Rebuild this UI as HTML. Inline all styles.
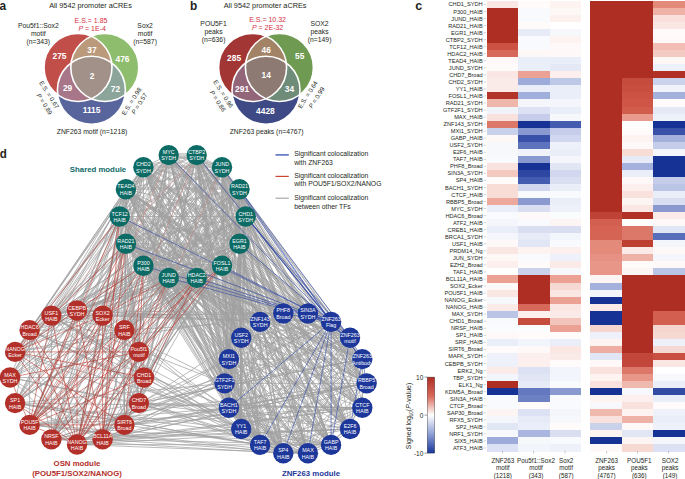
<!DOCTYPE html>
<html><head><meta charset="utf-8"><style>
html,body{margin:0;padding:0;background:#fff;}
body{width:685px;height:479px;overflow:hidden;}
svg{display:block;font-family:"Liberation Sans", sans-serif;}
</style></head><body>
<svg width="685" height="479" viewBox="0 0 685 479">
<g font-weight="bold" font-size="13.2" fill="#231f20"><text transform="translate(-0.5,9.5) scale(0.9,1)">a</text><text transform="translate(190.1,9.7) scale(0.9,1)">b</text><text transform="translate(415.3,9.7) scale(0.95,1)">c</text><text transform="translate(-0.3,157.9) scale(0.88,1)">d</text></g>
<defs><clipPath id="v0r"><circle cx="78" cy="67.5" r="34"/></clipPath><clipPath id="v0g"><circle cx="104.8" cy="67.5" r="34"/></clipPath><clipPath id="v0b"><circle cx="91.4" cy="90.2" r="34"/></clipPath></defs>
<circle cx="78" cy="67.5" r="34" fill="#c24e4a"/>
<circle cx="104.8" cy="67.5" r="34" fill="#8dbd6d"/>
<circle cx="91.4" cy="90.2" r="34" fill="#58649c"/>
<g clip-path="url(#v0r)"><circle cx="104.8" cy="67.5" r="34" fill="#bb9a7c"/><circle cx="91.4" cy="90.2" r="34" fill="#a87689"/></g>
<g clip-path="url(#v0g)"><circle cx="91.4" cy="90.2" r="34" fill="#8ba59a"/></g>
<g clip-path="url(#v0r)"><g clip-path="url(#v0g)"><circle cx="91.4" cy="90.2" r="34" fill="#a29189"/></g></g>
<g fill="none" stroke="#fff" stroke-width="1.6"><circle cx="78" cy="67.5" r="34"/><circle cx="104.8" cy="67.5" r="34"/><circle cx="91.4" cy="90.2" r="34"/></g>
<g fill="#fff" font-weight="bold" font-size="8.4" text-anchor="middle"><text x="59.5" y="59.3">275</text><text x="92.0" y="53.0">37</text><text x="122.5" y="62.0">476</text><text x="92.0" y="79.2">2</text><text x="67.6" y="90.6">29</text><text x="115.4" y="91.7">72</text><text x="91.6" y="113.1">1115</text></g>
<g fill="#231f20" font-size="6.8" text-anchor="middle"><text x="90.5" y="8.2" font-size="7.3">All 9542 promoter aCREs</text><text x="38.3" y="27.5">Pou5f1::Sox2</text><text x="38.3" y="35.5">motif</text><text x="38.3" y="43.5">(n=343)</text><text x="145.1" y="27.5">Sox2</text><text x="145.1" y="35.5">motif</text><text x="145.1" y="43.5">(n=587)</text><text x="92" y="134.0">ZNF263 motif (n=1218)</text></g>
<g fill="#d42f42" font-size="7" text-anchor="middle"><text x="91" y="23.2">E.S.= 1.85</text><text x="92.2" y="31.3"><tspan font-style="italic">P</tspan> = 1E-4</text></g>
<g fill="#231f20" text-anchor="middle"><text transform="translate(47.34,95.88) rotate(57.5)" x="0" y="0" font-size="6.3">E.S. = 0.67</text><text transform="translate(42.64,105.18) rotate(57.5)" x="0" y="0" font-size="6.3"><tspan font-style="italic">P</tspan> = 0.89</text><text transform="translate(133.46,102.48) rotate(-57.5)" x="0" y="0" font-size="6.3">E.S. = 0.98</text><text transform="translate(141.16,104.78) rotate(-57.5)" x="0" y="0" font-size="6.3"><tspan font-style="italic">P</tspan> = 0.57</text></g>
<defs><clipPath id="v174r"><circle cx="252.6" cy="67.5" r="34"/></clipPath><clipPath id="v174g"><circle cx="279.4" cy="67.5" r="34"/></clipPath><clipPath id="v174b"><circle cx="266.0" cy="90.2" r="34"/></clipPath></defs>
<circle cx="252.6" cy="67.5" r="34" fill="#a23634"/>
<circle cx="279.4" cy="67.5" r="34" fill="#6e9a51"/>
<circle cx="266.0" cy="90.2" r="34" fill="#3e4a85"/>
<g clip-path="url(#v174r)"><circle cx="279.4" cy="67.5" r="34" fill="#a38366"/><circle cx="266.0" cy="90.2" r="34" fill="#926579"/></g>
<g clip-path="url(#v174g)"><circle cx="266.0" cy="90.2" r="34" fill="#6f8c79"/></g>
<g clip-path="url(#v174r)"><g clip-path="url(#v174g)"><circle cx="266.0" cy="90.2" r="34" fill="#8d7a72"/></g></g>
<g fill="none" stroke="#fff" stroke-width="1.6"><circle cx="252.6" cy="67.5" r="34"/><circle cx="279.4" cy="67.5" r="34"/><circle cx="266.0" cy="90.2" r="34"/></g>
<g fill="#fff" font-weight="bold" font-size="8.4" text-anchor="middle"><text x="234.1" y="60.5">285</text><text x="266.2" y="52.6">46</text><text x="299.7" y="59.0">55</text><text x="266.2" y="78.0">14</text><text x="242.1" y="92.4">291</text><text x="289.4" y="91.5">34</text><text x="265.4" y="114.0">4428</text></g>
<g fill="#231f20" font-size="6.8" text-anchor="middle"><text x="265.1" y="8.2" font-size="7.3">All 9542 promoter aCREs</text><text x="213.6" y="26.0">POU5F1</text><text x="213.6" y="34.1">peaks</text><text x="213.6" y="42.0">(n=636)</text><text x="319.6" y="26.0">SOX2</text><text x="319.6" y="34.1">peaks</text><text x="319.6" y="42.0">(n=149)</text><text x="266.6" y="134.0">ZNF263 peaks (n=4767)</text></g>
<g fill="#d42f42" font-size="7" text-anchor="middle"><text x="267.6" y="21.6">E.S.= 10.32</text><text x="267.6" y="29.5"><tspan font-style="italic">P</tspan> = 2E-32</text></g>
<g fill="#231f20" text-anchor="middle"><text transform="translate(221.44,95.08) rotate(57.5)" x="0" y="0" font-size="6.3">E.S. = 0.96</text><text transform="translate(215.94,102.28) rotate(57.5)" x="0" y="0" font-size="6.3"><tspan font-style="italic">P</tspan> = 0.86</text><text transform="translate(309.56,95.88) rotate(-57.5)" x="0" y="0" font-size="6.3">E.S. = 0.64</text><text transform="translate(318.46,98.78) rotate(-57.5)" x="0" y="0" font-size="6.3"><tspan font-style="italic">P</tspan> = 0.99</text></g>
<g stroke="#a0a0a0" stroke-width="0.8" stroke-opacity="0.9" fill="none">
<line x1="196.7" y1="155.1" x2="222.0" y2="167.2"/>
<line x1="196.2" y1="156.3" x2="221.4" y2="168.4"/>
<line x1="196.7" y1="155.1" x2="239.5" y2="189.2"/>
<line x1="195.9" y1="156.1" x2="238.7" y2="190.2"/>
<line x1="196.7" y1="155.1" x2="245.7" y2="216.5"/>
<line x1="195.7" y1="155.9" x2="244.7" y2="217.3"/>
<line x1="196.7" y1="155.1" x2="239.5" y2="243.8"/>
<line x1="195.5" y1="155.6" x2="238.3" y2="244.4"/>
<line x1="196.7" y1="155.1" x2="222.0" y2="265.8"/>
<line x1="196.7" y1="155.1" x2="196.7" y2="277.9"/>
<line x1="195.4" y1="155.1" x2="195.4" y2="277.9"/>
<line x1="196.7" y1="155.1" x2="168.7" y2="277.9"/>
<line x1="196.7" y1="155.1" x2="143.4" y2="265.8"/>
<line x1="195.5" y1="154.5" x2="142.2" y2="265.2"/>
<line x1="196.7" y1="155.1" x2="125.9" y2="243.8"/>
<line x1="196.7" y1="155.1" x2="119.7" y2="216.5"/>
<line x1="196.7" y1="155.1" x2="125.9" y2="189.2"/>
<line x1="196.2" y1="153.9" x2="125.4" y2="188.0"/>
<line x1="196.7" y1="155.1" x2="143.4" y2="167.2"/>
<line x1="196.4" y1="153.8" x2="143.1" y2="166.0"/>
<line x1="196.7" y1="155.1" x2="168.7" y2="155.1"/>
<line x1="196.7" y1="153.8" x2="168.7" y2="153.8"/>
<line x1="196.7" y1="155.1" x2="77.0" y2="310.5"/>
<line x1="196.7" y1="155.1" x2="102.6" y2="315.6"/>
<line x1="196.7" y1="155.1" x2="124.4" y2="330.1"/>
<line x1="196.7" y1="155.1" x2="144.0" y2="377.5"/>
<line x1="196.7" y1="155.1" x2="138.9" y2="403.1"/>
<line x1="196.7" y1="155.1" x2="124.4" y2="424.9"/>
<line x1="196.7" y1="155.1" x2="102.6" y2="439.4"/>
<line x1="196.7" y1="155.1" x2="51.4" y2="439.4"/>
<line x1="196.7" y1="155.1" x2="29.6" y2="424.9"/>
<line x1="196.7" y1="155.1" x2="51.4" y2="315.6"/>
<line x1="196.7" y1="155.1" x2="307.9" y2="313.5"/>
<line x1="196.7" y1="155.1" x2="350.0" y2="337.8"/>
<line x1="195.7" y1="155.9" x2="349.0" y2="338.6"/>
<line x1="196.7" y1="155.1" x2="362.3" y2="359.1"/>
<line x1="196.7" y1="155.1" x2="366.6" y2="383.4"/>
<line x1="196.7" y1="155.1" x2="350.0" y2="429.0"/>
<line x1="195.6" y1="155.7" x2="348.9" y2="429.7"/>
<line x1="196.7" y1="155.1" x2="331.1" y2="444.9"/>
<line x1="196.7" y1="155.1" x2="307.9" y2="453.3"/>
<line x1="196.7" y1="155.1" x2="283.3" y2="453.3"/>
<line x1="195.5" y1="155.4" x2="282.0" y2="453.7"/>
<line x1="196.7" y1="155.1" x2="260.1" y2="444.9"/>
<line x1="196.7" y1="155.1" x2="241.2" y2="429.0"/>
<line x1="195.4" y1="155.3" x2="239.9" y2="429.2"/>
<line x1="196.7" y1="155.1" x2="228.9" y2="407.7"/>
<line x1="196.7" y1="155.1" x2="224.6" y2="383.4"/>
<line x1="195.4" y1="155.2" x2="223.3" y2="383.6"/>
<line x1="196.7" y1="155.1" x2="228.9" y2="359.1"/>
<line x1="195.4" y1="155.3" x2="227.6" y2="359.3"/>
<line x1="196.7" y1="155.1" x2="241.2" y2="337.8"/>
<line x1="196.7" y1="155.1" x2="260.1" y2="321.9"/>
<line x1="196.7" y1="155.1" x2="283.3" y2="313.5"/>
<line x1="195.6" y1="155.7" x2="282.1" y2="314.1"/>
<line x1="222.0" y1="167.2" x2="239.5" y2="189.2"/>
<line x1="221.0" y1="168.1" x2="238.4" y2="190.0"/>
<line x1="222.0" y1="167.2" x2="245.7" y2="216.5"/>
<line x1="220.8" y1="167.8" x2="244.5" y2="217.1"/>
<line x1="222.0" y1="167.2" x2="239.5" y2="243.8"/>
<line x1="220.7" y1="167.5" x2="238.2" y2="244.1"/>
<line x1="222.0" y1="167.2" x2="222.0" y2="265.8"/>
<line x1="222.0" y1="167.2" x2="196.7" y2="277.9"/>
<line x1="220.7" y1="167.0" x2="195.5" y2="277.6"/>
<line x1="222.0" y1="167.2" x2="168.7" y2="277.9"/>
<line x1="220.8" y1="166.7" x2="167.5" y2="277.4"/>
<line x1="222.0" y1="167.2" x2="143.4" y2="265.8"/>
<line x1="222.0" y1="167.2" x2="125.9" y2="243.8"/>
<line x1="221.2" y1="166.2" x2="125.1" y2="242.8"/>
<line x1="222.0" y1="167.2" x2="119.7" y2="216.5"/>
<line x1="221.4" y1="166.1" x2="119.1" y2="215.3"/>
<line x1="222.0" y1="167.2" x2="125.9" y2="189.2"/>
<line x1="222.0" y1="167.2" x2="143.4" y2="167.2"/>
<line x1="222.0" y1="165.9" x2="143.4" y2="165.9"/>
<line x1="222.0" y1="167.2" x2="168.7" y2="155.1"/>
<line x1="222.3" y1="166.0" x2="169.0" y2="153.8"/>
<line x1="222.0" y1="167.2" x2="77.0" y2="310.5"/>
<line x1="222.0" y1="167.2" x2="102.6" y2="315.6"/>
<line x1="222.0" y1="167.2" x2="124.4" y2="330.1"/>
<line x1="222.0" y1="167.2" x2="144.0" y2="377.5"/>
<line x1="222.0" y1="167.2" x2="138.9" y2="403.1"/>
<line x1="222.0" y1="167.2" x2="102.6" y2="439.4"/>
<line x1="222.0" y1="167.2" x2="77.0" y2="444.5"/>
<line x1="222.0" y1="167.2" x2="29.6" y2="424.9"/>
<line x1="222.0" y1="167.2" x2="15.1" y2="403.1"/>
<line x1="222.0" y1="167.2" x2="29.6" y2="330.1"/>
<line x1="222.0" y1="167.2" x2="51.4" y2="315.6"/>
<line x1="222.0" y1="167.2" x2="307.9" y2="313.5"/>
<line x1="222.0" y1="167.2" x2="350.0" y2="337.8"/>
<line x1="222.0" y1="167.2" x2="362.3" y2="359.1"/>
<line x1="222.0" y1="167.2" x2="366.6" y2="383.4"/>
<line x1="220.9" y1="168.0" x2="365.5" y2="384.1"/>
<line x1="222.0" y1="167.2" x2="362.3" y2="407.7"/>
<line x1="222.0" y1="167.2" x2="350.0" y2="429.0"/>
<line x1="222.0" y1="167.2" x2="331.1" y2="444.9"/>
<line x1="222.0" y1="167.2" x2="307.9" y2="453.3"/>
<line x1="222.0" y1="167.2" x2="283.3" y2="453.3"/>
<line x1="222.0" y1="167.2" x2="260.1" y2="444.9"/>
<line x1="222.0" y1="167.2" x2="241.2" y2="429.0"/>
<line x1="222.0" y1="167.2" x2="228.9" y2="407.7"/>
<line x1="222.0" y1="167.2" x2="228.9" y2="359.1"/>
<line x1="220.7" y1="167.3" x2="227.6" y2="359.2"/>
<line x1="222.0" y1="167.2" x2="241.2" y2="337.8"/>
<line x1="222.0" y1="167.2" x2="260.1" y2="321.9"/>
<line x1="220.7" y1="167.6" x2="258.8" y2="322.2"/>
<line x1="222.0" y1="167.2" x2="283.3" y2="313.5"/>
<line x1="239.5" y1="189.2" x2="245.7" y2="216.5"/>
<line x1="238.2" y1="189.5" x2="244.4" y2="216.8"/>
<line x1="239.5" y1="189.2" x2="239.5" y2="243.8"/>
<line x1="239.5" y1="189.2" x2="222.0" y2="265.8"/>
<line x1="239.5" y1="189.2" x2="196.7" y2="277.9"/>
<line x1="238.3" y1="188.6" x2="195.5" y2="277.4"/>
<line x1="239.5" y1="189.2" x2="168.7" y2="277.9"/>
<line x1="238.4" y1="188.4" x2="167.7" y2="277.1"/>
<line x1="239.5" y1="189.2" x2="143.4" y2="265.8"/>
<line x1="239.5" y1="189.2" x2="125.9" y2="243.8"/>
<line x1="238.9" y1="188.0" x2="125.4" y2="242.7"/>
<line x1="239.5" y1="189.2" x2="119.7" y2="216.5"/>
<line x1="239.2" y1="187.9" x2="119.4" y2="215.2"/>
<line x1="239.5" y1="189.2" x2="125.9" y2="189.2"/>
<line x1="239.5" y1="187.9" x2="125.9" y2="187.9"/>
<line x1="239.5" y1="189.2" x2="143.4" y2="167.2"/>
<line x1="239.8" y1="187.9" x2="143.7" y2="166.0"/>
<line x1="239.5" y1="189.2" x2="168.7" y2="155.1"/>
<line x1="239.5" y1="189.2" x2="102.6" y2="315.6"/>
<line x1="239.5" y1="189.2" x2="124.4" y2="330.1"/>
<line x1="239.5" y1="189.2" x2="138.9" y2="351.9"/>
<line x1="239.5" y1="189.2" x2="138.9" y2="403.1"/>
<line x1="239.5" y1="189.2" x2="124.4" y2="424.9"/>
<line x1="239.5" y1="189.2" x2="51.4" y2="439.4"/>
<line x1="239.5" y1="189.2" x2="29.6" y2="424.9"/>
<line x1="239.5" y1="189.2" x2="10.0" y2="377.5"/>
<line x1="239.5" y1="189.2" x2="15.1" y2="351.9"/>
<line x1="239.5" y1="189.2" x2="29.6" y2="330.1"/>
<line x1="239.5" y1="189.2" x2="51.4" y2="315.6"/>
<line x1="239.5" y1="189.2" x2="307.9" y2="313.5"/>
<line x1="238.3" y1="189.8" x2="306.8" y2="314.1"/>
<line x1="239.5" y1="189.2" x2="362.3" y2="359.1"/>
<line x1="239.5" y1="189.2" x2="366.6" y2="383.4"/>
<line x1="239.5" y1="189.2" x2="362.3" y2="407.7"/>
<line x1="239.5" y1="189.2" x2="350.0" y2="429.0"/>
<line x1="239.5" y1="189.2" x2="331.1" y2="444.9"/>
<line x1="238.2" y1="189.6" x2="329.9" y2="445.3"/>
<line x1="239.5" y1="189.2" x2="307.9" y2="453.3"/>
<line x1="238.2" y1="189.5" x2="306.7" y2="453.6"/>
<line x1="239.5" y1="189.2" x2="283.3" y2="453.3"/>
<line x1="239.5" y1="189.2" x2="260.1" y2="444.9"/>
<line x1="239.5" y1="189.2" x2="241.2" y2="429.0"/>
<line x1="239.5" y1="189.2" x2="224.6" y2="383.4"/>
<line x1="238.2" y1="189.1" x2="223.3" y2="383.3"/>
<line x1="239.5" y1="189.2" x2="228.9" y2="359.1"/>
<line x1="239.5" y1="189.2" x2="241.2" y2="337.8"/>
<line x1="238.2" y1="189.2" x2="239.9" y2="337.8"/>
<line x1="239.5" y1="189.2" x2="283.3" y2="313.5"/>
<line x1="245.7" y1="216.5" x2="239.5" y2="243.8"/>
<line x1="244.4" y1="216.2" x2="238.2" y2="243.5"/>
<line x1="245.7" y1="216.5" x2="222.0" y2="265.8"/>
<line x1="244.5" y1="215.9" x2="220.8" y2="265.2"/>
<line x1="245.7" y1="216.5" x2="196.7" y2="277.9"/>
<line x1="245.7" y1="216.5" x2="168.7" y2="277.9"/>
<line x1="245.7" y1="216.5" x2="143.4" y2="265.8"/>
<line x1="245.1" y1="215.3" x2="142.9" y2="264.6"/>
<line x1="245.7" y1="216.5" x2="125.9" y2="243.8"/>
<line x1="245.4" y1="215.2" x2="125.6" y2="242.6"/>
<line x1="245.7" y1="216.5" x2="119.7" y2="216.5"/>
<line x1="245.7" y1="216.5" x2="125.9" y2="189.2"/>
<line x1="245.7" y1="216.5" x2="143.4" y2="167.2"/>
<line x1="246.3" y1="215.3" x2="144.0" y2="166.1"/>
<line x1="245.7" y1="216.5" x2="168.7" y2="155.1"/>
<line x1="246.5" y1="215.5" x2="169.5" y2="154.1"/>
<line x1="245.7" y1="216.5" x2="77.0" y2="310.5"/>
<line x1="245.7" y1="216.5" x2="102.6" y2="315.6"/>
<line x1="245.7" y1="216.5" x2="124.4" y2="330.1"/>
<line x1="245.7" y1="216.5" x2="138.9" y2="351.9"/>
<line x1="245.7" y1="216.5" x2="144.0" y2="377.5"/>
<line x1="245.7" y1="216.5" x2="138.9" y2="403.1"/>
<line x1="245.7" y1="216.5" x2="77.0" y2="444.5"/>
<line x1="245.7" y1="216.5" x2="51.4" y2="439.4"/>
<line x1="245.7" y1="216.5" x2="29.6" y2="424.9"/>
<line x1="245.7" y1="216.5" x2="10.0" y2="377.5"/>
<line x1="245.7" y1="216.5" x2="15.1" y2="351.9"/>
<line x1="245.7" y1="216.5" x2="29.6" y2="330.1"/>
<line x1="245.7" y1="216.5" x2="51.4" y2="315.6"/>
<line x1="245.7" y1="216.5" x2="307.9" y2="313.5"/>
<line x1="244.6" y1="217.2" x2="306.8" y2="314.2"/>
<line x1="245.7" y1="216.5" x2="366.6" y2="383.4"/>
<line x1="245.7" y1="216.5" x2="362.3" y2="407.7"/>
<line x1="245.7" y1="216.5" x2="350.0" y2="429.0"/>
<line x1="244.5" y1="217.1" x2="348.8" y2="429.6"/>
<line x1="245.7" y1="216.5" x2="331.1" y2="444.9"/>
<line x1="245.7" y1="216.5" x2="307.9" y2="453.3"/>
<line x1="245.7" y1="216.5" x2="283.3" y2="453.3"/>
<line x1="245.7" y1="216.5" x2="241.2" y2="429.0"/>
<line x1="244.4" y1="216.5" x2="239.9" y2="429.0"/>
<line x1="245.7" y1="216.5" x2="228.9" y2="407.7"/>
<line x1="244.4" y1="216.4" x2="227.6" y2="407.6"/>
<line x1="245.7" y1="216.5" x2="224.6" y2="383.4"/>
<line x1="245.7" y1="216.5" x2="228.9" y2="359.1"/>
<line x1="244.4" y1="216.3" x2="227.6" y2="359.0"/>
<line x1="245.7" y1="216.5" x2="241.2" y2="337.8"/>
<line x1="245.7" y1="216.5" x2="260.1" y2="321.9"/>
<line x1="245.7" y1="216.5" x2="283.3" y2="313.5"/>
<line x1="239.5" y1="243.8" x2="222.0" y2="265.8"/>
<line x1="239.5" y1="243.8" x2="196.7" y2="277.9"/>
<line x1="238.7" y1="242.8" x2="195.9" y2="276.9"/>
<line x1="239.5" y1="243.8" x2="168.7" y2="277.9"/>
<line x1="239.5" y1="243.8" x2="143.4" y2="265.8"/>
<line x1="239.2" y1="242.6" x2="143.1" y2="264.5"/>
<line x1="239.5" y1="243.8" x2="125.9" y2="243.8"/>
<line x1="239.5" y1="243.8" x2="119.7" y2="216.5"/>
<line x1="239.8" y1="242.6" x2="120.0" y2="215.2"/>
<line x1="239.5" y1="243.8" x2="125.9" y2="189.2"/>
<line x1="239.5" y1="243.8" x2="143.4" y2="167.2"/>
<line x1="240.3" y1="242.8" x2="144.2" y2="166.2"/>
<line x1="239.5" y1="243.8" x2="168.7" y2="155.1"/>
<line x1="240.5" y1="243.0" x2="169.7" y2="154.3"/>
<line x1="239.5" y1="243.8" x2="77.0" y2="310.5"/>
<line x1="239.5" y1="243.8" x2="124.4" y2="330.1"/>
<line x1="239.5" y1="243.8" x2="138.9" y2="351.9"/>
<line x1="239.5" y1="243.8" x2="144.0" y2="377.5"/>
<line x1="239.5" y1="243.8" x2="51.4" y2="439.4"/>
<line x1="239.5" y1="243.8" x2="29.6" y2="424.9"/>
<line x1="239.5" y1="243.8" x2="15.1" y2="403.1"/>
<line x1="239.5" y1="243.8" x2="29.6" y2="330.1"/>
<line x1="239.5" y1="243.8" x2="51.4" y2="315.6"/>
<line x1="239.5" y1="243.8" x2="307.9" y2="313.5"/>
<line x1="239.5" y1="243.8" x2="350.0" y2="337.8"/>
<line x1="239.5" y1="243.8" x2="362.3" y2="359.1"/>
<line x1="239.5" y1="243.8" x2="366.6" y2="383.4"/>
<line x1="239.5" y1="243.8" x2="362.3" y2="407.7"/>
<line x1="239.5" y1="243.8" x2="350.0" y2="429.0"/>
<line x1="238.3" y1="244.5" x2="348.9" y2="429.7"/>
<line x1="239.5" y1="243.8" x2="331.1" y2="444.9"/>
<line x1="239.5" y1="243.8" x2="307.9" y2="453.3"/>
<line x1="239.5" y1="243.8" x2="283.3" y2="453.3"/>
<line x1="239.5" y1="243.8" x2="260.1" y2="444.9"/>
<line x1="239.5" y1="243.8" x2="241.2" y2="429.0"/>
<line x1="239.5" y1="243.8" x2="228.9" y2="407.7"/>
<line x1="239.5" y1="243.8" x2="224.6" y2="383.4"/>
<line x1="239.5" y1="243.8" x2="228.9" y2="359.1"/>
<line x1="239.5" y1="243.8" x2="241.2" y2="337.8"/>
<line x1="239.5" y1="243.8" x2="260.1" y2="321.9"/>
<line x1="222.0" y1="265.8" x2="196.7" y2="277.9"/>
<line x1="222.0" y1="265.8" x2="168.7" y2="277.9"/>
<line x1="221.7" y1="264.5" x2="168.4" y2="276.7"/>
<line x1="222.0" y1="265.8" x2="143.4" y2="265.8"/>
<line x1="222.0" y1="264.5" x2="143.4" y2="264.5"/>
<line x1="222.0" y1="265.8" x2="125.9" y2="243.8"/>
<line x1="222.3" y1="264.5" x2="126.2" y2="242.6"/>
<line x1="222.0" y1="265.8" x2="119.7" y2="216.5"/>
<line x1="222.5" y1="264.6" x2="120.3" y2="215.3"/>
<line x1="222.0" y1="265.8" x2="125.9" y2="189.2"/>
<line x1="222.8" y1="264.7" x2="126.7" y2="188.1"/>
<line x1="222.0" y1="265.8" x2="143.4" y2="167.2"/>
<line x1="222.0" y1="265.8" x2="168.7" y2="155.1"/>
<line x1="223.2" y1="265.2" x2="169.9" y2="154.5"/>
<line x1="222.0" y1="265.8" x2="77.0" y2="310.5"/>
<line x1="222.0" y1="265.8" x2="102.6" y2="315.6"/>
<line x1="222.0" y1="265.8" x2="124.4" y2="330.1"/>
<line x1="222.0" y1="265.8" x2="144.0" y2="377.5"/>
<line x1="222.0" y1="265.8" x2="102.6" y2="439.4"/>
<line x1="222.0" y1="265.8" x2="51.4" y2="439.4"/>
<line x1="222.0" y1="265.8" x2="15.1" y2="403.1"/>
<line x1="222.0" y1="265.8" x2="10.0" y2="377.5"/>
<line x1="222.0" y1="265.8" x2="51.4" y2="315.6"/>
<line x1="222.0" y1="265.8" x2="307.9" y2="313.5"/>
<line x1="221.3" y1="266.9" x2="307.3" y2="314.6"/>
<line x1="222.0" y1="265.8" x2="350.0" y2="337.8"/>
<line x1="222.0" y1="265.8" x2="362.3" y2="359.1"/>
<line x1="222.0" y1="265.8" x2="366.6" y2="383.4"/>
<line x1="221.2" y1="266.8" x2="365.8" y2="384.4"/>
<line x1="222.0" y1="265.8" x2="362.3" y2="407.7"/>
<line x1="222.0" y1="265.8" x2="350.0" y2="429.0"/>
<line x1="222.0" y1="265.8" x2="331.1" y2="444.9"/>
<line x1="220.9" y1="266.4" x2="330.0" y2="445.6"/>
<line x1="222.0" y1="265.8" x2="307.9" y2="453.3"/>
<line x1="220.8" y1="266.3" x2="306.7" y2="453.9"/>
<line x1="222.0" y1="265.8" x2="283.3" y2="453.3"/>
<line x1="222.0" y1="265.8" x2="260.1" y2="444.9"/>
<line x1="222.0" y1="265.8" x2="241.2" y2="429.0"/>
<line x1="222.0" y1="265.8" x2="228.9" y2="407.7"/>
<line x1="222.0" y1="265.8" x2="224.6" y2="383.4"/>
<line x1="222.0" y1="265.8" x2="228.9" y2="359.1"/>
<line x1="222.0" y1="265.8" x2="241.2" y2="337.8"/>
<line x1="222.0" y1="265.8" x2="260.1" y2="321.9"/>
<line x1="222.0" y1="265.8" x2="283.3" y2="313.5"/>
<line x1="196.7" y1="277.9" x2="168.7" y2="277.9"/>
<line x1="196.7" y1="277.9" x2="143.4" y2="265.8"/>
<line x1="197.0" y1="276.7" x2="143.7" y2="264.5"/>
<line x1="196.7" y1="277.9" x2="125.9" y2="243.8"/>
<line x1="197.3" y1="276.7" x2="126.5" y2="242.7"/>
<line x1="196.7" y1="277.9" x2="119.7" y2="216.5"/>
<line x1="196.7" y1="277.9" x2="125.9" y2="189.2"/>
<line x1="197.7" y1="277.1" x2="127.0" y2="188.4"/>
<line x1="196.7" y1="277.9" x2="143.4" y2="167.2"/>
<line x1="197.9" y1="277.4" x2="144.6" y2="166.7"/>
<line x1="196.7" y1="277.9" x2="168.7" y2="155.1"/>
<line x1="196.7" y1="277.9" x2="77.0" y2="310.5"/>
<line x1="196.7" y1="277.9" x2="102.6" y2="315.6"/>
<line x1="196.7" y1="277.9" x2="124.4" y2="330.1"/>
<line x1="196.7" y1="277.9" x2="144.0" y2="377.5"/>
<line x1="196.7" y1="277.9" x2="138.9" y2="403.1"/>
<line x1="196.7" y1="277.9" x2="102.6" y2="439.4"/>
<line x1="196.7" y1="277.9" x2="51.4" y2="439.4"/>
<line x1="196.7" y1="277.9" x2="15.1" y2="403.1"/>
<line x1="196.7" y1="277.9" x2="29.6" y2="330.1"/>
<line x1="196.7" y1="277.9" x2="51.4" y2="315.6"/>
<line x1="196.7" y1="277.9" x2="307.9" y2="313.5"/>
<line x1="196.7" y1="277.9" x2="350.0" y2="337.8"/>
<line x1="196.2" y1="279.1" x2="349.5" y2="339.0"/>
<line x1="196.7" y1="277.9" x2="362.3" y2="359.1"/>
<line x1="196.1" y1="279.1" x2="361.7" y2="360.3"/>
<line x1="196.7" y1="277.9" x2="366.6" y2="383.4"/>
<line x1="196.7" y1="277.9" x2="362.3" y2="407.7"/>
<line x1="196.7" y1="277.9" x2="350.0" y2="429.0"/>
<line x1="195.8" y1="278.8" x2="349.1" y2="430.0"/>
<line x1="196.7" y1="277.9" x2="331.1" y2="444.9"/>
<line x1="196.7" y1="277.9" x2="260.1" y2="444.9"/>
<line x1="195.5" y1="278.4" x2="258.9" y2="445.3"/>
<line x1="196.7" y1="277.9" x2="228.9" y2="407.7"/>
<line x1="196.7" y1="277.9" x2="224.6" y2="383.4"/>
<line x1="196.7" y1="277.9" x2="228.9" y2="359.1"/>
<line x1="196.7" y1="277.9" x2="241.2" y2="337.8"/>
<line x1="195.7" y1="278.7" x2="240.2" y2="338.5"/>
<line x1="196.7" y1="277.9" x2="260.1" y2="321.9"/>
<line x1="196.7" y1="277.9" x2="283.3" y2="313.5"/>
<line x1="168.7" y1="277.9" x2="143.4" y2="265.8"/>
<line x1="169.2" y1="276.7" x2="144.0" y2="264.6"/>
<line x1="168.7" y1="277.9" x2="125.9" y2="243.8"/>
<line x1="169.5" y1="276.9" x2="126.7" y2="242.8"/>
<line x1="168.7" y1="277.9" x2="119.7" y2="216.5"/>
<line x1="169.7" y1="277.1" x2="120.7" y2="215.7"/>
<line x1="168.7" y1="277.9" x2="125.9" y2="189.2"/>
<line x1="168.7" y1="277.9" x2="143.4" y2="167.2"/>
<line x1="168.7" y1="277.9" x2="168.7" y2="155.1"/>
<line x1="170.0" y1="277.9" x2="170.0" y2="155.1"/>
<line x1="168.7" y1="277.9" x2="77.0" y2="310.5"/>
<line x1="168.7" y1="277.9" x2="124.4" y2="330.1"/>
<line x1="168.7" y1="277.9" x2="138.9" y2="403.1"/>
<line x1="168.7" y1="277.9" x2="51.4" y2="439.4"/>
<line x1="168.7" y1="277.9" x2="15.1" y2="403.1"/>
<line x1="168.7" y1="277.9" x2="15.1" y2="351.9"/>
<line x1="168.7" y1="277.9" x2="307.9" y2="313.5"/>
<line x1="168.7" y1="277.9" x2="350.0" y2="337.8"/>
<line x1="168.7" y1="277.9" x2="362.3" y2="359.1"/>
<line x1="168.2" y1="279.1" x2="361.8" y2="360.3"/>
<line x1="168.7" y1="277.9" x2="366.6" y2="383.4"/>
<line x1="168.7" y1="277.9" x2="362.3" y2="407.7"/>
<line x1="168.7" y1="277.9" x2="350.0" y2="429.0"/>
<line x1="168.7" y1="277.9" x2="331.1" y2="444.9"/>
<line x1="168.7" y1="277.9" x2="307.9" y2="453.3"/>
<line x1="168.7" y1="277.9" x2="283.3" y2="453.3"/>
<line x1="168.7" y1="277.9" x2="260.1" y2="444.9"/>
<line x1="168.7" y1="277.9" x2="228.9" y2="407.7"/>
<line x1="168.7" y1="277.9" x2="224.6" y2="383.4"/>
<line x1="168.7" y1="277.9" x2="228.9" y2="359.1"/>
<line x1="168.7" y1="277.9" x2="241.2" y2="337.8"/>
<line x1="168.7" y1="277.9" x2="260.1" y2="321.9"/>
<line x1="168.1" y1="279.1" x2="259.5" y2="323.1"/>
<line x1="168.7" y1="277.9" x2="283.3" y2="313.5"/>
<line x1="143.4" y1="265.8" x2="125.9" y2="243.8"/>
<line x1="144.4" y1="264.9" x2="127.0" y2="243.0"/>
<line x1="143.4" y1="265.8" x2="119.7" y2="216.5"/>
<line x1="144.6" y1="265.2" x2="120.9" y2="215.9"/>
<line x1="143.4" y1="265.8" x2="125.9" y2="189.2"/>
<line x1="143.4" y1="265.8" x2="143.4" y2="167.2"/>
<line x1="143.4" y1="265.8" x2="168.7" y2="155.1"/>
<line x1="143.4" y1="265.8" x2="77.0" y2="310.5"/>
<line x1="143.4" y1="265.8" x2="102.6" y2="315.6"/>
<line x1="143.4" y1="265.8" x2="124.4" y2="330.1"/>
<line x1="143.4" y1="265.8" x2="144.0" y2="377.5"/>
<line x1="143.4" y1="265.8" x2="102.6" y2="439.4"/>
<line x1="143.4" y1="265.8" x2="51.4" y2="439.4"/>
<line x1="143.4" y1="265.8" x2="15.1" y2="403.1"/>
<line x1="143.4" y1="265.8" x2="10.0" y2="377.5"/>
<line x1="143.4" y1="265.8" x2="29.6" y2="330.1"/>
<line x1="143.4" y1="265.8" x2="51.4" y2="315.6"/>
<line x1="143.4" y1="265.8" x2="350.0" y2="337.8"/>
<line x1="143.4" y1="265.8" x2="362.3" y2="359.1"/>
<line x1="143.4" y1="265.8" x2="366.6" y2="383.4"/>
<line x1="143.4" y1="265.8" x2="362.3" y2="407.7"/>
<line x1="143.4" y1="265.8" x2="350.0" y2="429.0"/>
<line x1="143.4" y1="265.8" x2="331.1" y2="444.9"/>
<line x1="143.4" y1="265.8" x2="307.9" y2="453.3"/>
<line x1="142.4" y1="266.6" x2="307.0" y2="454.2"/>
<line x1="143.4" y1="265.8" x2="283.3" y2="453.3"/>
<line x1="143.4" y1="265.8" x2="260.1" y2="444.9"/>
<line x1="143.4" y1="265.8" x2="241.2" y2="429.0"/>
<line x1="143.4" y1="265.8" x2="224.6" y2="383.4"/>
<line x1="143.4" y1="265.8" x2="228.9" y2="359.1"/>
<line x1="143.4" y1="265.8" x2="260.1" y2="321.9"/>
<line x1="125.9" y1="243.8" x2="119.7" y2="216.5"/>
<line x1="127.2" y1="243.5" x2="121.0" y2="216.2"/>
<line x1="125.9" y1="243.8" x2="125.9" y2="189.2"/>
<line x1="125.9" y1="243.8" x2="143.4" y2="167.2"/>
<line x1="127.2" y1="244.1" x2="144.7" y2="167.5"/>
<line x1="125.9" y1="243.8" x2="168.7" y2="155.1"/>
<line x1="127.1" y1="244.4" x2="169.9" y2="155.6"/>
<line x1="125.9" y1="243.8" x2="77.0" y2="310.5"/>
<line x1="125.9" y1="243.8" x2="124.4" y2="330.1"/>
<line x1="125.9" y1="243.8" x2="138.9" y2="351.9"/>
<line x1="125.9" y1="243.8" x2="144.0" y2="377.5"/>
<line x1="125.9" y1="243.8" x2="138.9" y2="403.1"/>
<line x1="125.9" y1="243.8" x2="124.4" y2="424.9"/>
<line x1="125.9" y1="243.8" x2="51.4" y2="439.4"/>
<line x1="125.9" y1="243.8" x2="15.1" y2="403.1"/>
<line x1="125.9" y1="243.8" x2="10.0" y2="377.5"/>
<line x1="125.9" y1="243.8" x2="29.6" y2="330.1"/>
<line x1="125.9" y1="243.8" x2="51.4" y2="315.6"/>
<line x1="125.9" y1="243.8" x2="307.9" y2="313.5"/>
<line x1="125.9" y1="243.8" x2="362.3" y2="359.1"/>
<line x1="125.9" y1="243.8" x2="366.6" y2="383.4"/>
<line x1="125.9" y1="243.8" x2="362.3" y2="407.7"/>
<line x1="125.9" y1="243.8" x2="350.0" y2="429.0"/>
<line x1="125.9" y1="243.8" x2="331.1" y2="444.9"/>
<line x1="125.9" y1="243.8" x2="307.9" y2="453.3"/>
<line x1="125.9" y1="243.8" x2="283.3" y2="453.3"/>
<line x1="124.9" y1="244.6" x2="282.2" y2="454.1"/>
<line x1="125.9" y1="243.8" x2="260.1" y2="444.9"/>
<line x1="125.9" y1="243.8" x2="228.9" y2="407.7"/>
<line x1="124.8" y1="244.5" x2="227.8" y2="408.4"/>
<line x1="125.9" y1="243.8" x2="224.6" y2="383.4"/>
<line x1="125.9" y1="243.8" x2="228.9" y2="359.1"/>
<line x1="125.9" y1="243.8" x2="241.2" y2="337.8"/>
<line x1="125.9" y1="243.8" x2="260.1" y2="321.9"/>
<line x1="125.3" y1="245.0" x2="259.4" y2="323.0"/>
<line x1="125.9" y1="243.8" x2="283.3" y2="313.5"/>
<line x1="119.7" y1="216.5" x2="125.9" y2="189.2"/>
<line x1="121.0" y1="216.8" x2="127.2" y2="189.5"/>
<line x1="119.7" y1="216.5" x2="143.4" y2="167.2"/>
<line x1="120.9" y1="217.1" x2="144.6" y2="167.8"/>
<line x1="119.7" y1="216.5" x2="168.7" y2="155.1"/>
<line x1="119.7" y1="216.5" x2="124.4" y2="330.1"/>
<line x1="119.7" y1="216.5" x2="138.9" y2="351.9"/>
<line x1="119.7" y1="216.5" x2="138.9" y2="403.1"/>
<line x1="119.7" y1="216.5" x2="124.4" y2="424.9"/>
<line x1="119.7" y1="216.5" x2="77.0" y2="444.5"/>
<line x1="119.7" y1="216.5" x2="51.4" y2="439.4"/>
<line x1="119.7" y1="216.5" x2="15.1" y2="403.1"/>
<line x1="119.7" y1="216.5" x2="29.6" y2="330.1"/>
<line x1="119.7" y1="216.5" x2="51.4" y2="315.6"/>
<line x1="119.7" y1="216.5" x2="350.0" y2="337.8"/>
<line x1="119.7" y1="216.5" x2="362.3" y2="359.1"/>
<line x1="119.7" y1="216.5" x2="366.6" y2="383.4"/>
<line x1="119.7" y1="216.5" x2="362.3" y2="407.7"/>
<line x1="119.7" y1="216.5" x2="350.0" y2="429.0"/>
<line x1="118.8" y1="217.5" x2="349.1" y2="430.0"/>
<line x1="119.7" y1="216.5" x2="331.1" y2="444.9"/>
<line x1="119.7" y1="216.5" x2="307.9" y2="453.3"/>
<line x1="119.7" y1="216.5" x2="283.3" y2="453.3"/>
<line x1="118.6" y1="217.2" x2="282.2" y2="454.1"/>
<line x1="119.7" y1="216.5" x2="260.1" y2="444.9"/>
<line x1="119.7" y1="216.5" x2="241.2" y2="429.0"/>
<line x1="119.7" y1="216.5" x2="228.9" y2="407.7"/>
<line x1="119.7" y1="216.5" x2="224.6" y2="383.4"/>
<line x1="118.6" y1="217.2" x2="223.5" y2="384.1"/>
<line x1="119.7" y1="216.5" x2="228.9" y2="359.1"/>
<line x1="119.7" y1="216.5" x2="241.2" y2="337.8"/>
<line x1="118.8" y1="217.4" x2="240.3" y2="338.7"/>
<line x1="119.7" y1="216.5" x2="260.1" y2="321.9"/>
<line x1="125.9" y1="189.2" x2="143.4" y2="167.2"/>
<line x1="125.9" y1="189.2" x2="168.7" y2="155.1"/>
<line x1="125.9" y1="189.2" x2="77.0" y2="310.5"/>
<line x1="125.9" y1="189.2" x2="102.6" y2="315.6"/>
<line x1="125.9" y1="189.2" x2="124.4" y2="330.1"/>
<line x1="125.9" y1="189.2" x2="138.9" y2="403.1"/>
<line x1="125.9" y1="189.2" x2="124.4" y2="424.9"/>
<line x1="125.9" y1="189.2" x2="102.6" y2="439.4"/>
<line x1="125.9" y1="189.2" x2="77.0" y2="444.5"/>
<line x1="125.9" y1="189.2" x2="51.4" y2="439.4"/>
<line x1="125.9" y1="189.2" x2="29.6" y2="424.9"/>
<line x1="125.9" y1="189.2" x2="15.1" y2="403.1"/>
<line x1="125.9" y1="189.2" x2="10.0" y2="377.5"/>
<line x1="125.9" y1="189.2" x2="15.1" y2="351.9"/>
<line x1="125.9" y1="189.2" x2="29.6" y2="330.1"/>
<line x1="125.9" y1="189.2" x2="307.9" y2="313.5"/>
<line x1="125.2" y1="190.2" x2="307.2" y2="314.6"/>
<line x1="125.9" y1="189.2" x2="331.1" y2="321.9"/>
<line x1="125.9" y1="189.2" x2="350.0" y2="337.8"/>
<line x1="125.2" y1="190.2" x2="349.3" y2="338.8"/>
<line x1="125.9" y1="189.2" x2="362.3" y2="359.1"/>
<line x1="125.9" y1="189.2" x2="366.6" y2="383.4"/>
<line x1="125.9" y1="189.2" x2="362.3" y2="407.7"/>
<line x1="125.9" y1="189.2" x2="350.0" y2="429.0"/>
<line x1="125.9" y1="189.2" x2="331.1" y2="444.9"/>
<line x1="124.9" y1="190.0" x2="330.1" y2="445.7"/>
<line x1="125.9" y1="189.2" x2="307.9" y2="453.3"/>
<line x1="125.9" y1="189.2" x2="283.3" y2="453.3"/>
<line x1="124.8" y1="189.8" x2="282.2" y2="454.0"/>
<line x1="125.9" y1="189.2" x2="260.1" y2="444.9"/>
<line x1="124.8" y1="189.8" x2="258.9" y2="445.5"/>
<line x1="125.9" y1="189.2" x2="241.2" y2="429.0"/>
<line x1="125.9" y1="189.2" x2="228.9" y2="407.7"/>
<line x1="125.9" y1="189.2" x2="224.6" y2="383.4"/>
<line x1="125.9" y1="189.2" x2="228.9" y2="359.1"/>
<line x1="125.9" y1="189.2" x2="241.2" y2="337.8"/>
<line x1="125.9" y1="189.2" x2="260.1" y2="321.9"/>
<line x1="125.9" y1="189.2" x2="283.3" y2="313.5"/>
<line x1="143.4" y1="167.2" x2="168.7" y2="155.1"/>
<line x1="143.4" y1="167.2" x2="77.0" y2="310.5"/>
<line x1="143.4" y1="167.2" x2="124.4" y2="330.1"/>
<line x1="143.4" y1="167.2" x2="77.0" y2="444.5"/>
<line x1="143.4" y1="167.2" x2="51.4" y2="439.4"/>
<line x1="143.4" y1="167.2" x2="29.6" y2="424.9"/>
<line x1="143.4" y1="167.2" x2="10.0" y2="377.5"/>
<line x1="143.4" y1="167.2" x2="15.1" y2="351.9"/>
<line x1="143.4" y1="167.2" x2="29.6" y2="330.1"/>
<line x1="143.4" y1="167.2" x2="51.4" y2="315.6"/>
<line x1="143.4" y1="167.2" x2="331.1" y2="321.9"/>
<line x1="142.6" y1="168.2" x2="330.3" y2="322.9"/>
<line x1="143.4" y1="167.2" x2="350.0" y2="337.8"/>
<line x1="143.4" y1="167.2" x2="362.3" y2="359.1"/>
<line x1="143.4" y1="167.2" x2="366.6" y2="383.4"/>
<line x1="143.4" y1="167.2" x2="362.3" y2="407.7"/>
<line x1="143.4" y1="167.2" x2="350.0" y2="429.0"/>
<line x1="142.4" y1="168.0" x2="349.0" y2="429.8"/>
<line x1="143.4" y1="167.2" x2="331.1" y2="444.9"/>
<line x1="143.4" y1="167.2" x2="307.9" y2="453.3"/>
<line x1="143.4" y1="167.2" x2="283.3" y2="453.3"/>
<line x1="142.3" y1="167.8" x2="282.1" y2="453.9"/>
<line x1="143.4" y1="167.2" x2="260.1" y2="444.9"/>
<line x1="143.4" y1="167.2" x2="241.2" y2="429.0"/>
<line x1="143.4" y1="167.2" x2="228.9" y2="407.7"/>
<line x1="143.4" y1="167.2" x2="224.6" y2="383.4"/>
<line x1="143.4" y1="167.2" x2="228.9" y2="359.1"/>
<line x1="143.4" y1="167.2" x2="241.2" y2="337.8"/>
<line x1="143.4" y1="167.2" x2="260.1" y2="321.9"/>
<line x1="143.4" y1="167.2" x2="283.3" y2="313.5"/>
<line x1="168.7" y1="155.1" x2="124.4" y2="330.1"/>
<line x1="168.7" y1="155.1" x2="138.9" y2="351.9"/>
<line x1="168.7" y1="155.1" x2="138.9" y2="403.1"/>
<line x1="168.7" y1="155.1" x2="124.4" y2="424.9"/>
<line x1="168.7" y1="155.1" x2="102.6" y2="439.4"/>
<line x1="168.7" y1="155.1" x2="29.6" y2="424.9"/>
<line x1="168.7" y1="155.1" x2="15.1" y2="403.1"/>
<line x1="168.7" y1="155.1" x2="10.0" y2="377.5"/>
<line x1="168.7" y1="155.1" x2="15.1" y2="351.9"/>
<line x1="168.7" y1="155.1" x2="51.4" y2="315.6"/>
<line x1="168.7" y1="155.1" x2="307.9" y2="313.5"/>
<line x1="167.7" y1="155.9" x2="307.0" y2="314.3"/>
<line x1="168.7" y1="155.1" x2="350.0" y2="337.8"/>
<line x1="168.7" y1="155.1" x2="362.3" y2="359.1"/>
<line x1="168.7" y1="155.1" x2="366.6" y2="383.4"/>
<line x1="167.7" y1="155.9" x2="365.6" y2="384.3"/>
<line x1="168.7" y1="155.1" x2="362.3" y2="407.7"/>
<line x1="168.7" y1="155.1" x2="350.0" y2="429.0"/>
<line x1="168.7" y1="155.1" x2="331.1" y2="444.9"/>
<line x1="168.7" y1="155.1" x2="283.3" y2="453.3"/>
<line x1="168.7" y1="155.1" x2="260.1" y2="444.9"/>
<line x1="168.7" y1="155.1" x2="241.2" y2="429.0"/>
<line x1="168.7" y1="155.1" x2="228.9" y2="407.7"/>
<line x1="168.7" y1="155.1" x2="224.6" y2="383.4"/>
<line x1="168.7" y1="155.1" x2="228.9" y2="359.1"/>
<line x1="167.4" y1="155.4" x2="227.6" y2="359.5"/>
<line x1="168.7" y1="155.1" x2="241.2" y2="337.8"/>
<line x1="168.7" y1="155.1" x2="283.3" y2="313.5"/>
<line x1="77.0" y1="310.5" x2="102.6" y2="315.6"/>
<line x1="77.0" y1="310.5" x2="138.9" y2="351.9"/>
<line x1="77.0" y1="310.5" x2="138.9" y2="403.1"/>
<line x1="77.0" y1="310.5" x2="51.4" y2="439.4"/>
<line x1="77.0" y1="310.5" x2="15.1" y2="351.9"/>
<line x1="77.0" y1="310.5" x2="51.4" y2="315.6"/>
<line x1="77.0" y1="310.5" x2="307.9" y2="313.5"/>
<line x1="77.0" y1="310.5" x2="331.1" y2="321.9"/>
<line x1="77.0" y1="310.5" x2="224.6" y2="383.4"/>
<line x1="77.0" y1="310.5" x2="260.1" y2="321.9"/>
<line x1="102.6" y1="315.6" x2="138.9" y2="351.9"/>
<line x1="102.6" y1="315.6" x2="124.4" y2="424.9"/>
<line x1="102.6" y1="315.6" x2="29.6" y2="330.1"/>
<line x1="102.6" y1="315.6" x2="51.4" y2="315.6"/>
<line x1="102.6" y1="315.6" x2="331.1" y2="321.9"/>
<line x1="102.6" y1="315.6" x2="260.1" y2="321.9"/>
<line x1="124.4" y1="330.1" x2="144.0" y2="377.5"/>
<line x1="124.4" y1="330.1" x2="138.9" y2="403.1"/>
<line x1="124.4" y1="330.1" x2="51.4" y2="439.4"/>
<line x1="124.4" y1="330.1" x2="15.1" y2="403.1"/>
<line x1="124.4" y1="330.1" x2="10.0" y2="377.5"/>
<line x1="124.4" y1="330.1" x2="15.1" y2="351.9"/>
<line x1="124.4" y1="330.1" x2="29.6" y2="330.1"/>
<line x1="124.4" y1="330.1" x2="51.4" y2="315.6"/>
<line x1="124.4" y1="330.1" x2="283.3" y2="453.3"/>
<line x1="124.4" y1="330.1" x2="260.1" y2="444.9"/>
<line x1="124.4" y1="330.1" x2="260.1" y2="321.9"/>
<line x1="138.9" y1="351.9" x2="144.0" y2="377.5"/>
<line x1="138.9" y1="351.9" x2="124.4" y2="424.9"/>
<line x1="138.9" y1="351.9" x2="102.6" y2="439.4"/>
<line x1="138.9" y1="351.9" x2="228.9" y2="407.7"/>
<line x1="144.0" y1="377.5" x2="102.6" y2="439.4"/>
<line x1="144.0" y1="377.5" x2="51.4" y2="439.4"/>
<line x1="144.0" y1="377.5" x2="10.0" y2="377.5"/>
<line x1="144.0" y1="377.5" x2="51.4" y2="315.6"/>
<line x1="144.0" y1="377.5" x2="283.3" y2="453.3"/>
<line x1="144.0" y1="377.5" x2="241.2" y2="429.0"/>
<line x1="138.9" y1="403.1" x2="124.4" y2="424.9"/>
<line x1="138.9" y1="403.1" x2="102.6" y2="439.4"/>
<line x1="138.9" y1="403.1" x2="77.0" y2="444.5"/>
<line x1="138.9" y1="403.1" x2="10.0" y2="377.5"/>
<line x1="138.9" y1="403.1" x2="51.4" y2="315.6"/>
<line x1="138.9" y1="403.1" x2="350.0" y2="337.8"/>
<line x1="138.9" y1="403.1" x2="362.3" y2="359.1"/>
<line x1="138.9" y1="403.1" x2="362.3" y2="407.7"/>
<line x1="138.9" y1="403.1" x2="350.0" y2="429.0"/>
<line x1="138.9" y1="403.1" x2="307.9" y2="453.3"/>
<line x1="138.9" y1="403.1" x2="260.1" y2="444.9"/>
<line x1="138.9" y1="403.1" x2="228.9" y2="407.7"/>
<line x1="138.9" y1="403.1" x2="228.9" y2="359.1"/>
<line x1="124.4" y1="424.9" x2="51.4" y2="439.4"/>
<line x1="124.4" y1="424.9" x2="366.6" y2="383.4"/>
<line x1="124.4" y1="424.9" x2="362.3" y2="407.7"/>
<line x1="124.4" y1="424.9" x2="260.1" y2="444.9"/>
<line x1="124.4" y1="424.9" x2="228.9" y2="407.7"/>
<line x1="124.4" y1="424.9" x2="224.6" y2="383.4"/>
<line x1="102.6" y1="439.4" x2="51.4" y2="439.4"/>
<line x1="102.6" y1="439.4" x2="15.1" y2="403.1"/>
<line x1="102.6" y1="439.4" x2="10.0" y2="377.5"/>
<line x1="102.6" y1="439.4" x2="15.1" y2="351.9"/>
<line x1="102.6" y1="439.4" x2="331.1" y2="321.9"/>
<line x1="102.6" y1="439.4" x2="366.6" y2="383.4"/>
<line x1="102.6" y1="439.4" x2="362.3" y2="407.7"/>
<line x1="102.6" y1="439.4" x2="350.0" y2="429.0"/>
<line x1="102.6" y1="439.4" x2="331.1" y2="444.9"/>
<line x1="102.6" y1="439.4" x2="307.9" y2="453.3"/>
<line x1="102.6" y1="439.4" x2="224.6" y2="383.4"/>
<line x1="77.0" y1="444.5" x2="10.0" y2="377.5"/>
<line x1="77.0" y1="444.5" x2="331.1" y2="321.9"/>
<line x1="77.0" y1="444.5" x2="366.6" y2="383.4"/>
<line x1="77.0" y1="444.5" x2="362.3" y2="407.7"/>
<line x1="77.0" y1="444.5" x2="350.0" y2="429.0"/>
<line x1="77.0" y1="444.5" x2="331.1" y2="444.9"/>
<line x1="77.0" y1="444.5" x2="307.9" y2="453.3"/>
<line x1="77.0" y1="444.5" x2="241.2" y2="429.0"/>
<line x1="77.0" y1="444.5" x2="228.9" y2="407.7"/>
<line x1="77.0" y1="444.5" x2="228.9" y2="359.1"/>
<line x1="77.0" y1="444.5" x2="241.2" y2="337.8"/>
<line x1="51.4" y1="439.4" x2="29.6" y2="330.1"/>
<line x1="51.4" y1="439.4" x2="51.4" y2="315.6"/>
<line x1="51.4" y1="439.4" x2="350.0" y2="337.8"/>
<line x1="51.4" y1="439.4" x2="366.6" y2="383.4"/>
<line x1="51.4" y1="439.4" x2="350.0" y2="429.0"/>
<line x1="51.4" y1="439.4" x2="283.3" y2="453.3"/>
<line x1="51.4" y1="439.4" x2="241.2" y2="429.0"/>
<line x1="51.4" y1="439.4" x2="224.6" y2="383.4"/>
<line x1="29.6" y1="424.9" x2="29.6" y2="330.1"/>
<line x1="29.6" y1="424.9" x2="362.3" y2="359.1"/>
<line x1="29.6" y1="424.9" x2="366.6" y2="383.4"/>
<line x1="29.6" y1="424.9" x2="362.3" y2="407.7"/>
<line x1="29.6" y1="424.9" x2="331.1" y2="444.9"/>
<line x1="29.6" y1="424.9" x2="307.9" y2="453.3"/>
<line x1="29.6" y1="424.9" x2="283.3" y2="453.3"/>
<line x1="29.6" y1="424.9" x2="228.9" y2="407.7"/>
<line x1="15.1" y1="403.1" x2="29.6" y2="330.1"/>
<line x1="15.1" y1="403.1" x2="362.3" y2="407.7"/>
<line x1="15.1" y1="403.1" x2="331.1" y2="444.9"/>
<line x1="15.1" y1="403.1" x2="307.9" y2="453.3"/>
<line x1="15.1" y1="403.1" x2="260.1" y2="444.9"/>
<line x1="15.1" y1="403.1" x2="241.2" y2="429.0"/>
<line x1="15.1" y1="403.1" x2="224.6" y2="383.4"/>
<line x1="10.0" y1="377.5" x2="29.6" y2="330.1"/>
<line x1="10.0" y1="377.5" x2="331.1" y2="444.9"/>
<line x1="15.1" y1="351.9" x2="29.6" y2="330.1"/>
<line x1="15.1" y1="351.9" x2="331.1" y2="444.9"/>
<line x1="15.1" y1="351.9" x2="260.1" y2="444.9"/>
<line x1="15.1" y1="351.9" x2="283.3" y2="313.5"/>
<line x1="29.6" y1="330.1" x2="283.3" y2="453.3"/>
<line x1="29.6" y1="330.1" x2="260.1" y2="444.9"/>
<line x1="29.6" y1="330.1" x2="241.2" y2="429.0"/>
<line x1="29.6" y1="330.1" x2="228.9" y2="407.7"/>
<line x1="51.4" y1="315.6" x2="307.9" y2="313.5"/>
<line x1="51.4" y1="315.6" x2="307.9" y2="453.3"/>
<line x1="51.4" y1="315.6" x2="283.3" y2="453.3"/>
<line x1="51.4" y1="315.6" x2="260.1" y2="444.9"/>
<line x1="51.4" y1="315.6" x2="241.2" y2="429.0"/>
<line x1="51.4" y1="315.6" x2="224.6" y2="383.4"/>
<line x1="51.4" y1="315.6" x2="283.3" y2="313.5"/>
<line x1="307.9" y1="313.5" x2="362.3" y2="359.1"/>
<line x1="307.9" y1="313.5" x2="366.6" y2="383.4"/>
<line x1="307.9" y1="313.5" x2="362.3" y2="407.7"/>
<line x1="307.9" y1="313.5" x2="350.0" y2="429.0"/>
<line x1="307.9" y1="313.5" x2="307.9" y2="453.3"/>
<line x1="307.9" y1="313.5" x2="283.3" y2="453.3"/>
<line x1="307.9" y1="313.5" x2="260.1" y2="444.9"/>
<line x1="307.9" y1="313.5" x2="241.2" y2="429.0"/>
<line x1="307.9" y1="313.5" x2="228.9" y2="407.7"/>
<line x1="307.9" y1="313.5" x2="224.6" y2="383.4"/>
<line x1="307.9" y1="313.5" x2="260.1" y2="321.9"/>
<line x1="307.9" y1="313.5" x2="283.3" y2="313.5"/>
<line x1="331.1" y1="321.9" x2="366.6" y2="383.4"/>
<line x1="331.1" y1="321.9" x2="362.3" y2="407.7"/>
<line x1="331.1" y1="321.9" x2="350.0" y2="429.0"/>
<line x1="331.1" y1="321.9" x2="241.2" y2="429.0"/>
<line x1="331.1" y1="321.9" x2="228.9" y2="359.1"/>
<line x1="331.1" y1="321.9" x2="241.2" y2="337.8"/>
<line x1="350.0" y1="337.8" x2="366.6" y2="383.4"/>
<line x1="350.0" y1="337.8" x2="362.3" y2="407.7"/>
<line x1="350.0" y1="337.8" x2="350.0" y2="429.0"/>
<line x1="350.0" y1="337.8" x2="307.9" y2="453.3"/>
<line x1="350.0" y1="337.8" x2="283.3" y2="453.3"/>
<line x1="350.0" y1="337.8" x2="260.1" y2="444.9"/>
<line x1="350.0" y1="337.8" x2="241.2" y2="429.0"/>
<line x1="350.0" y1="337.8" x2="224.6" y2="383.4"/>
<line x1="350.0" y1="337.8" x2="241.2" y2="337.8"/>
<line x1="350.0" y1="337.8" x2="260.1" y2="321.9"/>
<line x1="362.3" y1="359.1" x2="362.3" y2="407.7"/>
<line x1="362.3" y1="359.1" x2="307.9" y2="453.3"/>
<line x1="362.3" y1="359.1" x2="283.3" y2="453.3"/>
<line x1="362.3" y1="359.1" x2="260.1" y2="444.9"/>
<line x1="362.3" y1="359.1" x2="241.2" y2="429.0"/>
<line x1="362.3" y1="359.1" x2="228.9" y2="407.7"/>
<line x1="362.3" y1="359.1" x2="224.6" y2="383.4"/>
<line x1="362.3" y1="359.1" x2="228.9" y2="359.1"/>
<line x1="362.3" y1="359.1" x2="241.2" y2="337.8"/>
<line x1="362.3" y1="359.1" x2="260.1" y2="321.9"/>
<line x1="362.3" y1="359.1" x2="283.3" y2="313.5"/>
<line x1="366.6" y1="383.4" x2="350.0" y2="429.0"/>
<line x1="366.6" y1="383.4" x2="307.9" y2="453.3"/>
<line x1="366.6" y1="383.4" x2="283.3" y2="453.3"/>
<line x1="366.6" y1="383.4" x2="260.1" y2="444.9"/>
<line x1="366.6" y1="383.4" x2="241.2" y2="429.0"/>
<line x1="366.6" y1="383.4" x2="228.9" y2="407.7"/>
<line x1="366.6" y1="383.4" x2="224.6" y2="383.4"/>
<line x1="366.6" y1="383.4" x2="228.9" y2="359.1"/>
<line x1="366.6" y1="383.4" x2="241.2" y2="337.8"/>
<line x1="366.6" y1="383.4" x2="260.1" y2="321.9"/>
<line x1="366.6" y1="383.4" x2="283.3" y2="313.5"/>
<line x1="362.3" y1="407.7" x2="331.1" y2="444.9"/>
<line x1="362.3" y1="407.7" x2="307.9" y2="453.3"/>
<line x1="362.3" y1="407.7" x2="283.3" y2="453.3"/>
<line x1="362.3" y1="407.7" x2="260.1" y2="444.9"/>
<line x1="362.3" y1="407.7" x2="228.9" y2="407.7"/>
<line x1="362.3" y1="407.7" x2="228.9" y2="359.1"/>
<line x1="362.3" y1="407.7" x2="260.1" y2="321.9"/>
<line x1="362.3" y1="407.7" x2="283.3" y2="313.5"/>
<line x1="350.0" y1="429.0" x2="331.1" y2="444.9"/>
<line x1="350.0" y1="429.0" x2="307.9" y2="453.3"/>
<line x1="350.0" y1="429.0" x2="260.1" y2="444.9"/>
<line x1="350.0" y1="429.0" x2="228.9" y2="407.7"/>
<line x1="350.0" y1="429.0" x2="224.6" y2="383.4"/>
<line x1="350.0" y1="429.0" x2="228.9" y2="359.1"/>
<line x1="350.0" y1="429.0" x2="241.2" y2="337.8"/>
<line x1="350.0" y1="429.0" x2="260.1" y2="321.9"/>
<line x1="350.0" y1="429.0" x2="283.3" y2="313.5"/>
<line x1="331.1" y1="444.9" x2="307.9" y2="453.3"/>
<line x1="331.1" y1="444.9" x2="283.3" y2="453.3"/>
<line x1="331.1" y1="444.9" x2="260.1" y2="444.9"/>
<line x1="331.1" y1="444.9" x2="241.2" y2="429.0"/>
<line x1="331.1" y1="444.9" x2="228.9" y2="407.7"/>
<line x1="331.1" y1="444.9" x2="224.6" y2="383.4"/>
<line x1="331.1" y1="444.9" x2="228.9" y2="359.1"/>
<line x1="331.1" y1="444.9" x2="241.2" y2="337.8"/>
<line x1="331.1" y1="444.9" x2="260.1" y2="321.9"/>
<line x1="331.1" y1="444.9" x2="283.3" y2="313.5"/>
<line x1="307.9" y1="453.3" x2="283.3" y2="453.3"/>
<line x1="307.9" y1="453.3" x2="260.1" y2="444.9"/>
<line x1="307.9" y1="453.3" x2="241.2" y2="429.0"/>
<line x1="307.9" y1="453.3" x2="228.9" y2="407.7"/>
<line x1="307.9" y1="453.3" x2="224.6" y2="383.4"/>
<line x1="307.9" y1="453.3" x2="228.9" y2="359.1"/>
<line x1="307.9" y1="453.3" x2="260.1" y2="321.9"/>
<line x1="307.9" y1="453.3" x2="283.3" y2="313.5"/>
<line x1="283.3" y1="453.3" x2="260.1" y2="444.9"/>
<line x1="283.3" y1="453.3" x2="241.2" y2="429.0"/>
<line x1="283.3" y1="453.3" x2="228.9" y2="407.7"/>
<line x1="283.3" y1="453.3" x2="224.6" y2="383.4"/>
<line x1="283.3" y1="453.3" x2="228.9" y2="359.1"/>
<line x1="283.3" y1="453.3" x2="241.2" y2="337.8"/>
<line x1="260.1" y1="444.9" x2="241.2" y2="429.0"/>
<line x1="260.1" y1="444.9" x2="228.9" y2="407.7"/>
<line x1="260.1" y1="444.9" x2="228.9" y2="359.1"/>
<line x1="260.1" y1="444.9" x2="241.2" y2="337.8"/>
<line x1="260.1" y1="444.9" x2="260.1" y2="321.9"/>
<line x1="241.2" y1="429.0" x2="224.6" y2="383.4"/>
<line x1="241.2" y1="429.0" x2="228.9" y2="359.1"/>
<line x1="241.2" y1="429.0" x2="241.2" y2="337.8"/>
<line x1="241.2" y1="429.0" x2="260.1" y2="321.9"/>
<line x1="241.2" y1="429.0" x2="283.3" y2="313.5"/>
<line x1="228.9" y1="407.7" x2="224.6" y2="383.4"/>
<line x1="228.9" y1="407.7" x2="228.9" y2="359.1"/>
<line x1="228.9" y1="407.7" x2="241.2" y2="337.8"/>
<line x1="228.9" y1="407.7" x2="260.1" y2="321.9"/>
<line x1="228.9" y1="407.7" x2="283.3" y2="313.5"/>
<line x1="224.6" y1="383.4" x2="228.9" y2="359.1"/>
<line x1="224.6" y1="383.4" x2="241.2" y2="337.8"/>
<line x1="224.6" y1="383.4" x2="260.1" y2="321.9"/>
<line x1="224.6" y1="383.4" x2="283.3" y2="313.5"/>
<line x1="228.9" y1="359.1" x2="241.2" y2="337.8"/>
<line x1="228.9" y1="359.1" x2="260.1" y2="321.9"/>
<line x1="228.9" y1="359.1" x2="283.3" y2="313.5"/>
<line x1="241.2" y1="337.8" x2="260.1" y2="321.9"/>
<line x1="241.2" y1="337.8" x2="283.3" y2="313.5"/>
<line x1="260.1" y1="321.9" x2="283.3" y2="313.5"/>
</g>
<g stroke="#e07060" stroke-width="0.5" stroke-opacity="0.6" fill="none">
<line x1="77.0" y1="444.5" x2="196.7" y2="155.1"/>
<line x1="77.0" y1="444.5" x2="239.5" y2="243.8"/>
<line x1="102.6" y1="315.6" x2="168.7" y2="155.1"/>
<line x1="138.9" y1="351.9" x2="222.0" y2="167.2"/>
<line x1="15.1" y1="351.9" x2="196.7" y2="155.1"/>
</g>
<g stroke="#b52e25" stroke-width="0.6" stroke-opacity="0.9" fill="none">
<line x1="29.6" y1="424.9" x2="10.0" y2="377.5"/>
<line x1="29.6" y1="424.9" x2="51.4" y2="315.6"/>
<line x1="29.6" y1="424.9" x2="77.0" y2="310.5"/>
<line x1="29.6" y1="424.9" x2="102.6" y2="315.6"/>
<line x1="29.6" y1="424.9" x2="124.4" y2="330.1"/>
<line x1="29.6" y1="424.9" x2="138.9" y2="351.9"/>
<line x1="29.6" y1="424.9" x2="144.0" y2="377.5"/>
<line x1="29.6" y1="424.9" x2="124.4" y2="424.9"/>
<line x1="29.6" y1="424.9" x2="77.0" y2="444.5"/>
<line x1="29.6" y1="424.9" x2="119.7" y2="216.5"/>
<line x1="29.6" y1="424.9" x2="125.9" y2="243.8"/>
<line x1="29.6" y1="424.9" x2="143.4" y2="265.8"/>
<line x1="29.6" y1="424.9" x2="168.7" y2="277.9"/>
<line x1="29.6" y1="424.9" x2="196.7" y2="277.9"/>
<line x1="29.6" y1="424.9" x2="222.0" y2="265.8"/>
<line x1="77.0" y1="444.5" x2="15.1" y2="403.1"/>
<line x1="77.0" y1="444.5" x2="15.1" y2="351.9"/>
<line x1="77.0" y1="444.5" x2="51.4" y2="315.6"/>
<line x1="77.0" y1="444.5" x2="77.0" y2="310.5"/>
<line x1="77.0" y1="444.5" x2="102.6" y2="315.6"/>
<line x1="77.0" y1="444.5" x2="124.4" y2="330.1"/>
<line x1="77.0" y1="444.5" x2="29.6" y2="330.1"/>
<line x1="77.0" y1="444.5" x2="168.7" y2="277.9"/>
<line x1="77.0" y1="444.5" x2="196.7" y2="277.9"/>
<line x1="77.0" y1="444.5" x2="125.9" y2="243.8"/>
<line x1="77.0" y1="444.5" x2="143.4" y2="265.8"/>
<line x1="77.0" y1="444.5" x2="222.0" y2="265.8"/>
<line x1="102.6" y1="315.6" x2="15.1" y2="351.9"/>
<line x1="102.6" y1="315.6" x2="15.1" y2="403.1"/>
<line x1="102.6" y1="315.6" x2="51.4" y2="439.4"/>
<line x1="102.6" y1="315.6" x2="102.6" y2="439.4"/>
<line x1="102.6" y1="315.6" x2="119.7" y2="216.5"/>
<line x1="102.6" y1="315.6" x2="125.9" y2="243.8"/>
<line x1="102.6" y1="315.6" x2="168.7" y2="277.9"/>
<line x1="138.9" y1="351.9" x2="15.1" y2="351.9"/>
<line x1="138.9" y1="351.9" x2="10.0" y2="377.5"/>
<line x1="138.9" y1="351.9" x2="51.4" y2="439.4"/>
<line x1="138.9" y1="351.9" x2="196.7" y2="277.9"/>
<line x1="138.9" y1="351.9" x2="143.4" y2="265.8"/>
<line x1="138.9" y1="351.9" x2="222.0" y2="265.8"/>
<line x1="15.1" y1="351.9" x2="144.0" y2="377.5"/>
<line x1="15.1" y1="351.9" x2="124.4" y2="424.9"/>
<line x1="15.1" y1="351.9" x2="125.9" y2="243.8"/>
<line x1="15.1" y1="351.9" x2="119.7" y2="216.5"/>
<line x1="15.1" y1="351.9" x2="143.4" y2="265.8"/>
<line x1="102.6" y1="439.4" x2="119.7" y2="216.5"/>
<line x1="102.6" y1="439.4" x2="125.9" y2="243.8"/>
<line x1="102.6" y1="439.4" x2="168.7" y2="277.9"/>
<line x1="102.6" y1="439.4" x2="29.6" y2="330.1"/>
<line x1="102.6" y1="439.4" x2="77.0" y2="310.5"/>
<line x1="124.4" y1="424.9" x2="143.4" y2="265.8"/>
<line x1="124.4" y1="424.9" x2="196.7" y2="277.9"/>
</g>
<g stroke="#2b45a6" stroke-width="0.65" stroke-opacity="0.9" fill="none">
<line x1="331.1" y1="321.9" x2="260.1" y2="444.9"/>
<line x1="331.1" y1="321.9" x2="283.3" y2="453.3"/>
<line x1="331.1" y1="321.9" x2="307.9" y2="453.3"/>
<line x1="331.1" y1="321.9" x2="331.1" y2="444.9"/>
<line x1="331.1" y1="321.9" x2="228.9" y2="407.7"/>
<line x1="331.1" y1="321.9" x2="307.9" y2="313.5"/>
<line x1="331.1" y1="321.9" x2="283.3" y2="313.5"/>
<line x1="331.1" y1="321.9" x2="350.0" y2="337.8"/>
<line x1="331.1" y1="321.9" x2="362.3" y2="359.1"/>
<line x1="331.1" y1="321.9" x2="196.7" y2="155.1"/>
<line x1="331.1" y1="321.9" x2="245.7" y2="216.5"/>
<line x1="331.1" y1="321.9" x2="239.5" y2="189.2"/>
<line x1="331.1" y1="321.9" x2="239.5" y2="243.8"/>
<line x1="331.1" y1="321.9" x2="222.0" y2="265.8"/>
<line x1="331.1" y1="321.9" x2="196.7" y2="277.9"/>
<line x1="331.1" y1="321.9" x2="168.7" y2="277.9"/>
<line x1="331.1" y1="321.9" x2="143.4" y2="265.8"/>
<line x1="331.1" y1="321.9" x2="125.9" y2="243.8"/>
<line x1="331.1" y1="321.9" x2="119.7" y2="216.5"/>
<line x1="331.1" y1="321.9" x2="168.7" y2="155.1"/>
<line x1="331.1" y1="321.9" x2="222.0" y2="167.2"/>
<line x1="350.0" y1="337.8" x2="307.9" y2="313.5"/>
<line x1="350.0" y1="337.8" x2="362.3" y2="359.1"/>
<line x1="350.0" y1="337.8" x2="245.7" y2="216.5"/>
<line x1="350.0" y1="337.8" x2="239.5" y2="189.2"/>
<line x1="350.0" y1="337.8" x2="331.1" y2="444.9"/>
<line x1="362.3" y1="359.1" x2="366.6" y2="383.4"/>
<line x1="362.3" y1="359.1" x2="350.0" y2="429.0"/>
<line x1="362.3" y1="359.1" x2="245.7" y2="216.5"/>
</g>
<g><circle cx="196.7" cy="155.1" r="10.2" fill="#0c6b65"/>
<circle cx="222.0" cy="167.2" r="10.2" fill="#0c6b65"/>
<circle cx="239.5" cy="189.2" r="10.2" fill="#0c6b65"/>
<circle cx="245.7" cy="216.5" r="10.2" fill="#0c6b65"/>
<circle cx="239.5" cy="243.8" r="10.2" fill="#0c6b65"/>
<circle cx="222.0" cy="265.8" r="10.2" fill="#0c6b65"/>
<circle cx="196.7" cy="277.9" r="10.2" fill="#0c6b65"/>
<circle cx="168.7" cy="277.9" r="10.2" fill="#0c6b65"/>
<circle cx="143.4" cy="265.8" r="10.2" fill="#0c6b65"/>
<circle cx="125.9" cy="243.8" r="10.2" fill="#0c6b65"/>
<circle cx="119.7" cy="216.5" r="10.2" fill="#0c6b65"/>
<circle cx="125.9" cy="189.2" r="10.2" fill="#0c6b65"/>
<circle cx="143.4" cy="167.2" r="10.2" fill="#0c6b65"/>
<circle cx="168.7" cy="155.1" r="10.2" fill="#0c6b65"/>
<circle cx="77.0" cy="310.5" r="10.2" fill="#b3302a"/>
<circle cx="102.6" cy="315.6" r="10.2" fill="#b3302a"/>
<circle cx="124.4" cy="330.1" r="10.2" fill="#b3302a"/>
<circle cx="138.9" cy="351.9" r="10.2" fill="#b3302a"/>
<circle cx="144.0" cy="377.5" r="10.2" fill="#b3302a"/>
<circle cx="138.9" cy="403.1" r="10.2" fill="#b3302a"/>
<circle cx="124.4" cy="424.9" r="10.2" fill="#b3302a"/>
<circle cx="102.6" cy="439.4" r="10.2" fill="#b3302a"/>
<circle cx="77.0" cy="444.5" r="10.2" fill="#b3302a"/>
<circle cx="51.4" cy="439.4" r="10.2" fill="#b3302a"/>
<circle cx="29.6" cy="424.9" r="10.2" fill="#b3302a"/>
<circle cx="15.1" cy="403.1" r="10.2" fill="#b3302a"/>
<circle cx="10.0" cy="377.5" r="10.2" fill="#b3302a"/>
<circle cx="15.1" cy="351.9" r="10.2" fill="#b3302a"/>
<circle cx="29.6" cy="330.1" r="10.2" fill="#b3302a"/>
<circle cx="51.4" cy="315.6" r="10.2" fill="#b3302a"/>
<circle cx="307.9" cy="313.5" r="10.2" fill="#1d389a"/>
<circle cx="331.1" cy="321.9" r="10.2" fill="#1d389a"/>
<circle cx="350.0" cy="337.8" r="10.2" fill="#1d389a"/>
<circle cx="362.3" cy="359.1" r="10.2" fill="#1d389a"/>
<circle cx="366.6" cy="383.4" r="10.2" fill="#1d389a"/>
<circle cx="362.3" cy="407.7" r="10.2" fill="#1d389a"/>
<circle cx="350.0" cy="429.0" r="10.2" fill="#1d389a"/>
<circle cx="331.1" cy="444.9" r="10.2" fill="#1d389a"/>
<circle cx="307.9" cy="453.3" r="10.2" fill="#1d389a"/>
<circle cx="283.3" cy="453.3" r="10.2" fill="#1d389a"/>
<circle cx="260.1" cy="444.9" r="10.2" fill="#1d389a"/>
<circle cx="241.2" cy="429.0" r="10.2" fill="#1d389a"/>
<circle cx="228.9" cy="407.7" r="10.2" fill="#1d389a"/>
<circle cx="224.6" cy="383.4" r="10.2" fill="#1d389a"/>
<circle cx="228.9" cy="359.1" r="10.2" fill="#1d389a"/>
<circle cx="241.2" cy="337.8" r="10.2" fill="#1d389a"/>
<circle cx="260.1" cy="321.9" r="10.2" fill="#1d389a"/>
<circle cx="283.3" cy="313.5" r="10.2" fill="#1d389a"/></g>
<g fill="#fff" font-size="6.2" text-anchor="middle"><text transform="translate(196.72,154.08) scale(0.86,1)">CTBP2</text><text transform="translate(196.72,160.48) scale(0.86,1)">SYDH</text>
<text transform="translate(221.98,166.24) scale(0.86,1)">JUND</text><text transform="translate(221.98,172.64) scale(0.86,1)">SYDH</text>
<text transform="translate(239.46,188.17) scale(0.86,1)">RAD21</text><text transform="translate(239.46,194.57) scale(0.86,1)">SYDH</text>
<text transform="translate(245.70,215.50) scale(0.86,1)">CHD1</text><text transform="translate(245.70,221.90) scale(0.86,1)">SYDH</text>
<text transform="translate(239.46,242.83) scale(0.86,1)">EGR1</text><text transform="translate(239.46,249.23) scale(0.86,1)">HAIB</text>
<text transform="translate(221.98,264.76) scale(0.86,1)">FOSL1</text><text transform="translate(221.98,271.16) scale(0.86,1)">HAIB</text>
<text transform="translate(196.72,276.92) scale(0.86,1)">HDAC2</text><text transform="translate(196.72,283.32) scale(0.86,1)">HAIB</text>
<text transform="translate(168.68,276.92) scale(0.86,1)">JUND</text><text transform="translate(168.68,283.32) scale(0.86,1)">HAIB</text>
<text transform="translate(143.42,264.76) scale(0.86,1)">P300</text><text transform="translate(143.42,271.16) scale(0.86,1)">HAIB</text>
<text transform="translate(125.94,242.83) scale(0.86,1)">RAD21</text><text transform="translate(125.94,249.23) scale(0.86,1)">HAIB</text>
<text transform="translate(119.70,215.50) scale(0.86,1)">TCF12</text><text transform="translate(119.70,221.90) scale(0.86,1)">HAIB</text>
<text transform="translate(125.94,188.17) scale(0.86,1)">TEAD4</text><text transform="translate(125.94,194.57) scale(0.86,1)">HAIB</text>
<text transform="translate(143.42,166.24) scale(0.86,1)">CHD2</text><text transform="translate(143.42,172.64) scale(0.86,1)">SYDH</text>
<text transform="translate(168.68,154.08) scale(0.86,1)">MYC</text><text transform="translate(168.68,160.48) scale(0.86,1)">SYDH</text>
<text transform="translate(77.00,309.50) scale(0.86,1)">CEBPB</text><text transform="translate(77.00,315.90) scale(0.86,1)">SYDH</text>
<text transform="translate(102.64,314.60) scale(0.86,1)">SOX2</text><text transform="translate(102.64,321.00) scale(0.86,1)">Ecker</text>
<text transform="translate(124.38,329.12) scale(0.86,1)">SRF</text><text transform="translate(124.38,335.52) scale(0.86,1)">HAIB</text>
<text transform="translate(138.90,350.86) scale(0.86,1)">Pou5f1</text><text transform="translate(138.90,357.26) scale(0.86,1)">motif</text>
<text transform="translate(144.00,376.50) scale(0.86,1)">CHD1</text><text transform="translate(144.00,382.90) scale(0.86,1)">Broad</text>
<text transform="translate(138.90,402.14) scale(0.86,1)">CHD7</text><text transform="translate(138.90,408.54) scale(0.86,1)">Broad</text>
<text transform="translate(124.38,423.88) scale(0.86,1)">SIRT6</text><text transform="translate(124.38,430.28) scale(0.86,1)">Broad</text>
<text transform="translate(102.64,438.40) scale(0.86,1)">BCL11A</text><text transform="translate(102.64,444.80) scale(0.86,1)">HAIB</text>
<text transform="translate(77.00,443.50) scale(0.86,1)">NANOG</text><text transform="translate(77.00,449.90) scale(0.86,1)">HAIB</text>
<text transform="translate(51.36,438.40) scale(0.86,1)">NRSF</text><text transform="translate(51.36,444.80) scale(0.86,1)">HAIB</text>
<text transform="translate(29.62,423.88) scale(0.86,1)">POU5F</text><text transform="translate(29.62,430.28) scale(0.86,1)">HAIB</text>
<text transform="translate(15.10,402.14) scale(0.86,1)">SP1</text><text transform="translate(15.10,408.54) scale(0.86,1)">HAIB</text>
<text transform="translate(10.00,376.50) scale(0.86,1)">MAX</text><text transform="translate(10.00,382.90) scale(0.86,1)">SYDH</text>
<text transform="translate(15.10,350.86) scale(0.86,1)">NANOG</text><text transform="translate(15.10,357.26) scale(0.86,1)">Ecker</text>
<text transform="translate(29.62,329.12) scale(0.86,1)">HDAC6</text><text transform="translate(29.62,335.52) scale(0.86,1)">Broad</text>
<text transform="translate(51.36,314.60) scale(0.86,1)">USF1</text><text transform="translate(51.36,321.00) scale(0.86,1)">HAIB</text>
<text transform="translate(307.93,312.48) scale(0.86,1)">SIN3A</text><text transform="translate(307.93,318.88) scale(0.86,1)">SYDH</text>
<text transform="translate(331.10,320.91) scale(0.86,1)">ZNF263</text><text transform="translate(331.10,327.31) scale(0.86,1)">Flag</text>
<text transform="translate(349.99,336.76) scale(0.86,1)">ZNF263</text><text transform="translate(349.99,343.16) scale(0.86,1)">motif</text>
<text transform="translate(362.32,358.12) scale(0.86,1)">ZNF263</text><text transform="translate(362.32,364.52) scale(0.86,1)">Antibody</text>
<text transform="translate(366.60,382.40) scale(0.86,1)">RBBP5</text><text transform="translate(366.60,388.80) scale(0.86,1)">Broad</text>
<text transform="translate(362.32,406.68) scale(0.86,1)">CTCF</text><text transform="translate(362.32,413.08) scale(0.86,1)">HAIB</text>
<text transform="translate(349.99,428.04) scale(0.86,1)">E2F6</text><text transform="translate(349.99,434.44) scale(0.86,1)">HAIB</text>
<text transform="translate(331.10,443.89) scale(0.86,1)">GABP</text><text transform="translate(331.10,450.29) scale(0.86,1)">HAIB</text>
<text transform="translate(307.93,452.32) scale(0.86,1)">MAX</text><text transform="translate(307.93,458.72) scale(0.86,1)">HAIB</text>
<text transform="translate(283.27,452.32) scale(0.86,1)">SP4</text><text transform="translate(283.27,458.72) scale(0.86,1)">HAIB</text>
<text transform="translate(260.10,443.89) scale(0.86,1)">TAF7</text><text transform="translate(260.10,450.29) scale(0.86,1)">HAIB</text>
<text transform="translate(241.21,428.04) scale(0.86,1)">YY1</text><text transform="translate(241.21,434.44) scale(0.86,1)">HAIB</text>
<text transform="translate(228.88,406.68) scale(0.86,1)">BACH1</text><text transform="translate(228.88,413.08) scale(0.86,1)">SYDH</text>
<text transform="translate(224.60,382.40) scale(0.86,1)">GTF2F1</text><text transform="translate(224.60,388.80) scale(0.86,1)">SYDH</text>
<text transform="translate(228.88,358.12) scale(0.86,1)">MXI1</text><text transform="translate(228.88,364.52) scale(0.86,1)">SYDH</text>
<text transform="translate(241.21,336.76) scale(0.86,1)">USF2</text><text transform="translate(241.21,343.16) scale(0.86,1)">SYDH</text>
<text transform="translate(260.10,320.91) scale(0.86,1)">ZNF143</text><text transform="translate(260.10,327.31) scale(0.86,1)">SYDH</text>
<text transform="translate(283.27,312.48) scale(0.86,1)">PHF8</text><text transform="translate(283.27,318.88) scale(0.86,1)">Broad</text></g>
<g font-weight="bold" font-size="7.8" text-anchor="middle"><text x="98" y="172" fill="#0d6b66">Shared module</text><text x="77" y="466" fill="#b3302a">OSN module</text><text x="77" y="476" fill="#b3302a">(POU5F1/SOX2/NANOG)</text><text x="311" y="475.5" fill="#1d389a">ZNF263 module</text></g>
<line x1="275.5" y1="154.9" x2="288.8" y2="154.9" stroke="#5872c0" stroke-width="1.6"/><line x1="275.5" y1="176.4" x2="288.8" y2="176.4" stroke="#c8452f" stroke-width="1.2"/><line x1="275.5" y1="198.2" x2="288.8" y2="198.2" stroke="#a0a0a0" stroke-width="1.1"/>
<g fill="#231f20" font-size="6.8"><text x="294.2" y="156.4">Significant colocalization</text><text x="294.2" y="164.8">with ZNF263</text><text x="294.2" y="178.2">Significant colocalization</text><text x="294.2" y="186.1">with POU5F1/SOX2/NANOG</text><text x="294.2" y="200.1">Significant colocalization</text><text x="294.2" y="208.9">between other TFs</text></g>
<g shape-rendering="crispEdges"><rect x="486.8" y="0.90" width="31.5" height="7.34" fill="#fae7e4"/>
<rect x="518.0" y="0.90" width="31.8" height="7.34" fill="#fefbfa"/>
<rect x="549.5" y="0.90" width="31.8" height="7.34" fill="#fdf3f1"/>
<rect x="590.2" y="0.90" width="31.7" height="7.34" fill="#ae2e24"/>
<rect x="621.6" y="0.90" width="31.7" height="7.34" fill="#ae2e24"/>
<rect x="653.0" y="0.90" width="32.3" height="7.34" fill="#e38a7b"/>
<rect x="486.8" y="7.94" width="31.5" height="7.34" fill="#ae2e24"/>
<rect x="518.0" y="7.94" width="31.8" height="7.34" fill="#f9fafd"/>
<rect x="549.5" y="7.94" width="31.8" height="7.34" fill="#fdf7f6"/>
<rect x="590.2" y="7.94" width="31.7" height="7.34" fill="#ae2e24"/>
<rect x="621.6" y="7.94" width="31.7" height="7.34" fill="#ae2e24"/>
<rect x="653.0" y="7.94" width="32.3" height="7.34" fill="#eeb2a7"/>
<rect x="486.8" y="14.98" width="31.5" height="7.34" fill="#ae2e24"/>
<rect x="518.0" y="14.98" width="31.8" height="7.34" fill="#f9fafd"/>
<rect x="549.5" y="14.98" width="31.8" height="7.34" fill="#fcf1ef"/>
<rect x="590.2" y="14.98" width="31.7" height="7.34" fill="#ae2e24"/>
<rect x="621.6" y="14.98" width="31.7" height="7.34" fill="#ae2e24"/>
<rect x="653.0" y="14.98" width="32.3" height="7.34" fill="#f9e0db"/>
<rect x="486.8" y="22.02" width="31.5" height="7.34" fill="#ae2e24"/>
<rect x="518.0" y="22.02" width="31.8" height="7.34" fill="#fefbfa"/>
<rect x="549.5" y="22.02" width="31.8" height="7.34" fill="#ffffff"/>
<rect x="590.2" y="22.02" width="31.7" height="7.34" fill="#ae2e24"/>
<rect x="621.6" y="22.02" width="31.7" height="7.34" fill="#ae2e24"/>
<rect x="653.0" y="22.02" width="32.3" height="7.34" fill="#fae7e4"/>
<rect x="486.8" y="29.06" width="31.5" height="7.34" fill="#ae2e24"/>
<rect x="518.0" y="29.06" width="31.8" height="7.34" fill="#e7ebf7"/>
<rect x="549.5" y="29.06" width="31.8" height="7.34" fill="#f7f8fc"/>
<rect x="590.2" y="29.06" width="31.7" height="7.34" fill="#ae2e24"/>
<rect x="621.6" y="29.06" width="31.7" height="7.34" fill="#ae2e24"/>
<rect x="653.0" y="29.06" width="32.3" height="7.34" fill="#fefbfa"/>
<rect x="486.8" y="36.10" width="31.5" height="7.34" fill="#ae2e24"/>
<rect x="518.0" y="36.10" width="31.8" height="7.34" fill="#f9fafd"/>
<rect x="549.5" y="36.10" width="31.8" height="7.34" fill="#fdf3f1"/>
<rect x="590.2" y="36.10" width="31.7" height="7.34" fill="#ae2e24"/>
<rect x="621.6" y="36.10" width="31.7" height="7.34" fill="#ae2e24"/>
<rect x="653.0" y="36.10" width="32.3" height="7.34" fill="#fef9f8"/>
<rect x="486.8" y="43.14" width="31.5" height="7.34" fill="#cc5344"/>
<rect x="518.0" y="43.14" width="31.8" height="7.34" fill="#f9fafd"/>
<rect x="549.5" y="43.14" width="31.8" height="7.34" fill="#fef9f8"/>
<rect x="590.2" y="43.14" width="31.7" height="7.34" fill="#ae2e24"/>
<rect x="621.6" y="43.14" width="31.7" height="7.34" fill="#ae2e24"/>
<rect x="653.0" y="43.14" width="32.3" height="7.34" fill="#f1bdb4"/>
<rect x="486.8" y="50.18" width="31.5" height="7.34" fill="#d7695a"/>
<rect x="518.0" y="50.18" width="31.8" height="7.34" fill="#fdf7f6"/>
<rect x="549.5" y="50.18" width="31.8" height="7.34" fill="#fef9f8"/>
<rect x="590.2" y="50.18" width="31.7" height="7.34" fill="#ae2e24"/>
<rect x="621.6" y="50.18" width="31.7" height="7.34" fill="#ae2e24"/>
<rect x="653.0" y="50.18" width="32.3" height="7.34" fill="#f4cbc3"/>
<rect x="486.8" y="57.22" width="31.5" height="7.34" fill="#fef9f8"/>
<rect x="518.0" y="57.22" width="31.8" height="7.34" fill="#eaeef8"/>
<rect x="549.5" y="57.22" width="31.8" height="7.34" fill="#eaeef8"/>
<rect x="590.2" y="57.22" width="31.7" height="7.34" fill="#ae2e24"/>
<rect x="621.6" y="57.22" width="31.7" height="7.34" fill="#ae2e24"/>
<rect x="653.0" y="57.22" width="32.3" height="7.34" fill="#fdf7f6"/>
<rect x="486.8" y="64.26" width="31.5" height="7.34" fill="#fefbfa"/>
<rect x="518.0" y="64.26" width="31.8" height="7.34" fill="#eaeef8"/>
<rect x="549.5" y="64.26" width="31.8" height="7.34" fill="#e5e9f6"/>
<rect x="590.2" y="64.26" width="31.7" height="7.34" fill="#ae2e24"/>
<rect x="621.6" y="64.26" width="31.7" height="7.34" fill="#ae2e24"/>
<rect x="653.0" y="64.26" width="32.3" height="7.34" fill="#eef1f9"/>
<rect x="486.8" y="71.30" width="31.5" height="7.34" fill="#fae7e4"/>
<rect x="518.0" y="71.30" width="31.8" height="7.34" fill="#eba295"/>
<rect x="549.5" y="71.30" width="31.8" height="7.34" fill="#fcefed"/>
<rect x="590.2" y="71.30" width="31.7" height="7.34" fill="#ae2e24"/>
<rect x="621.6" y="71.30" width="31.7" height="7.34" fill="#ae2e24"/>
<rect x="653.0" y="71.30" width="32.3" height="7.34" fill="#b13127"/>
<rect x="486.8" y="78.34" width="31.5" height="7.34" fill="#fbebe8"/>
<rect x="518.0" y="78.34" width="31.8" height="7.34" fill="#9cabda"/>
<rect x="549.5" y="78.34" width="31.8" height="7.34" fill="#bec8e7"/>
<rect x="590.2" y="78.34" width="31.7" height="7.34" fill="#ae2e24"/>
<rect x="621.6" y="78.34" width="31.7" height="7.34" fill="#c54b3c"/>
<rect x="653.0" y="78.34" width="32.3" height="7.34" fill="#ccd3ec"/>
<rect x="486.8" y="85.38" width="31.5" height="7.34" fill="#fbebe8"/>
<rect x="518.0" y="85.38" width="31.8" height="7.34" fill="#eaeef8"/>
<rect x="549.5" y="85.38" width="31.8" height="7.34" fill="#eaeef8"/>
<rect x="590.2" y="85.38" width="31.7" height="7.34" fill="#ae2e24"/>
<rect x="621.6" y="85.38" width="31.7" height="7.34" fill="#c84e3f"/>
<rect x="653.0" y="85.38" width="32.3" height="7.34" fill="#f0f3fa"/>
<rect x="486.8" y="92.42" width="31.5" height="7.34" fill="#b23328"/>
<rect x="518.0" y="92.42" width="31.8" height="7.34" fill="#a1afdc"/>
<rect x="549.5" y="92.42" width="31.8" height="7.34" fill="#eaeef8"/>
<rect x="590.2" y="92.42" width="31.7" height="7.34" fill="#ae2e24"/>
<rect x="621.6" y="92.42" width="31.7" height="7.34" fill="#cc5344"/>
<rect x="653.0" y="92.42" width="32.3" height="7.34" fill="#a3b1dc"/>
<rect x="486.8" y="99.46" width="31.5" height="7.34" fill="#efb6ac"/>
<rect x="518.0" y="99.46" width="31.8" height="7.34" fill="#f4f6fc"/>
<rect x="549.5" y="99.46" width="31.8" height="7.34" fill="#f4f6fc"/>
<rect x="590.2" y="99.46" width="31.7" height="7.34" fill="#ae2e24"/>
<rect x="621.6" y="99.46" width="31.7" height="7.34" fill="#cf5647"/>
<rect x="653.0" y="99.46" width="32.3" height="7.34" fill="#fefbfa"/>
<rect x="486.8" y="106.50" width="31.5" height="7.34" fill="#f0f3fa"/>
<rect x="518.0" y="106.50" width="31.8" height="7.34" fill="#dce2f3"/>
<rect x="549.5" y="106.50" width="31.8" height="7.34" fill="#eaeef8"/>
<rect x="590.2" y="106.50" width="31.7" height="7.34" fill="#ae2e24"/>
<rect x="621.6" y="106.50" width="31.7" height="7.34" fill="#d25d4d"/>
<rect x="653.0" y="106.50" width="32.3" height="7.34" fill="#e5e9f6"/>
<rect x="486.8" y="113.54" width="31.5" height="7.34" fill="#f9e2dd"/>
<rect x="518.0" y="113.54" width="31.8" height="7.34" fill="#c5cdea"/>
<rect x="549.5" y="113.54" width="31.8" height="7.34" fill="#f7f8fc"/>
<rect x="590.2" y="113.54" width="31.7" height="7.34" fill="#ae2e24"/>
<rect x="621.6" y="113.54" width="31.7" height="7.34" fill="#e99b8d"/>
<rect x="653.0" y="113.54" width="32.3" height="7.34" fill="#eef1f9"/>
<rect x="486.8" y="120.58" width="31.5" height="7.34" fill="#dc7869"/>
<rect x="518.0" y="120.58" width="31.8" height="7.34" fill="#163294"/>
<rect x="549.5" y="120.58" width="31.8" height="7.34" fill="#445caf"/>
<rect x="590.2" y="120.58" width="31.7" height="7.34" fill="#ae2e24"/>
<rect x="621.6" y="120.58" width="31.7" height="7.34" fill="#ffffff"/>
<rect x="653.0" y="120.58" width="32.3" height="7.34" fill="#163294"/>
<rect x="486.8" y="127.62" width="31.5" height="7.34" fill="#c9d1eb"/>
<rect x="518.0" y="127.62" width="31.8" height="7.34" fill="#8a9ad1"/>
<rect x="549.5" y="127.62" width="31.8" height="7.34" fill="#c5cdea"/>
<rect x="590.2" y="127.62" width="31.7" height="7.34" fill="#ae2e24"/>
<rect x="621.6" y="127.62" width="31.7" height="7.34" fill="#fefbfa"/>
<rect x="653.0" y="127.62" width="32.3" height="7.34" fill="#3951a8"/>
<rect x="486.8" y="134.66" width="31.5" height="7.34" fill="#fdf7f6"/>
<rect x="518.0" y="134.66" width="31.8" height="7.34" fill="#3951a8"/>
<rect x="549.5" y="134.66" width="31.8" height="7.34" fill="#d0d7ee"/>
<rect x="590.2" y="134.66" width="31.7" height="7.34" fill="#ae2e24"/>
<rect x="621.6" y="134.66" width="31.7" height="7.34" fill="#fdf3f1"/>
<rect x="653.0" y="134.66" width="32.3" height="7.34" fill="#a3b1dc"/>
<rect x="486.8" y="141.70" width="31.5" height="7.34" fill="#f7f8fc"/>
<rect x="518.0" y="141.70" width="31.8" height="7.34" fill="#5e73bd"/>
<rect x="549.5" y="141.70" width="31.8" height="7.34" fill="#eef1f9"/>
<rect x="590.2" y="141.70" width="31.7" height="7.34" fill="#ae2e24"/>
<rect x="621.6" y="141.70" width="31.7" height="7.34" fill="#fef9f8"/>
<rect x="653.0" y="141.70" width="32.3" height="7.34" fill="#c5cdea"/>
<rect x="486.8" y="148.74" width="31.5" height="7.34" fill="#f7f8fc"/>
<rect x="518.0" y="148.74" width="31.8" height="7.34" fill="#f0f3fa"/>
<rect x="549.5" y="148.74" width="31.8" height="7.34" fill="#eaeef8"/>
<rect x="590.2" y="148.74" width="31.7" height="7.34" fill="#ae2e24"/>
<rect x="621.6" y="148.74" width="31.7" height="7.34" fill="#f8ddd7"/>
<rect x="653.0" y="148.74" width="32.3" height="7.34" fill="#f4f6fc"/>
<rect x="486.8" y="155.78" width="31.5" height="7.34" fill="#f9fafd"/>
<rect x="518.0" y="155.78" width="31.8" height="7.34" fill="#8a9ad1"/>
<rect x="549.5" y="155.78" width="31.8" height="7.34" fill="#f4f6fc"/>
<rect x="590.2" y="155.78" width="31.7" height="7.34" fill="#ae2e24"/>
<rect x="621.6" y="155.78" width="31.7" height="7.34" fill="#e7ebf7"/>
<rect x="653.0" y="155.78" width="32.3" height="7.34" fill="#163294"/>
<rect x="486.8" y="162.82" width="31.5" height="7.34" fill="#f9e2dd"/>
<rect x="518.0" y="162.82" width="31.8" height="7.34" fill="#163294"/>
<rect x="549.5" y="162.82" width="31.8" height="7.34" fill="#e1e6f5"/>
<rect x="590.2" y="162.82" width="31.7" height="7.34" fill="#ae2e24"/>
<rect x="621.6" y="162.82" width="31.7" height="7.34" fill="#a3b1dc"/>
<rect x="653.0" y="162.82" width="32.3" height="7.34" fill="#163294"/>
<rect x="486.8" y="169.86" width="31.5" height="7.34" fill="#f3c9c0"/>
<rect x="518.0" y="169.86" width="31.8" height="7.34" fill="#2d47a2"/>
<rect x="549.5" y="169.86" width="31.8" height="7.34" fill="#d0d7ee"/>
<rect x="590.2" y="169.86" width="31.7" height="7.34" fill="#ae2e24"/>
<rect x="621.6" y="169.86" width="31.7" height="7.34" fill="#eaeef8"/>
<rect x="653.0" y="169.86" width="32.3" height="7.34" fill="#163294"/>
<rect x="486.8" y="176.90" width="31.5" height="7.34" fill="#fefbfa"/>
<rect x="518.0" y="176.90" width="31.8" height="7.34" fill="#445caf"/>
<rect x="549.5" y="176.90" width="31.8" height="7.34" fill="#d9dff1"/>
<rect x="590.2" y="176.90" width="31.7" height="7.34" fill="#ae2e24"/>
<rect x="621.6" y="176.90" width="31.7" height="7.34" fill="#fef9f8"/>
<rect x="653.0" y="176.90" width="32.3" height="7.34" fill="#c5cdea"/>
<rect x="486.8" y="183.94" width="31.5" height="7.34" fill="#f8ddd7"/>
<rect x="518.0" y="183.94" width="31.8" height="7.34" fill="#d0d7ee"/>
<rect x="549.5" y="183.94" width="31.8" height="7.34" fill="#eaeef8"/>
<rect x="590.2" y="183.94" width="31.7" height="7.34" fill="#ae2e24"/>
<rect x="621.6" y="183.94" width="31.7" height="7.34" fill="#fcefed"/>
<rect x="653.0" y="183.94" width="32.3" height="7.34" fill="#bac4e5"/>
<rect x="486.8" y="190.98" width="31.5" height="7.34" fill="#f8ddd7"/>
<rect x="518.0" y="190.98" width="31.8" height="7.34" fill="#f9fafd"/>
<rect x="549.5" y="190.98" width="31.8" height="7.34" fill="#f9fafd"/>
<rect x="590.2" y="190.98" width="31.7" height="7.34" fill="#ae2e24"/>
<rect x="621.6" y="190.98" width="31.7" height="7.34" fill="#f9e2dd"/>
<rect x="653.0" y="190.98" width="32.3" height="7.34" fill="#eaeef8"/>
<rect x="486.8" y="198.02" width="31.5" height="7.34" fill="#eca99c"/>
<rect x="518.0" y="198.02" width="31.8" height="7.34" fill="#8a9ad1"/>
<rect x="549.5" y="198.02" width="31.8" height="7.34" fill="#eaeef8"/>
<rect x="590.2" y="198.02" width="31.7" height="7.34" fill="#ae2e24"/>
<rect x="621.6" y="198.02" width="31.7" height="7.34" fill="#fdf5f4"/>
<rect x="653.0" y="198.02" width="32.3" height="7.34" fill="#d9dff1"/>
<rect x="486.8" y="205.06" width="31.5" height="7.34" fill="#eaeef8"/>
<rect x="518.0" y="205.06" width="31.8" height="7.34" fill="#d9dff1"/>
<rect x="549.5" y="205.06" width="31.8" height="7.34" fill="#eef1f9"/>
<rect x="590.2" y="205.06" width="31.7" height="7.34" fill="#ae2e24"/>
<rect x="621.6" y="205.06" width="31.7" height="7.34" fill="#fae7e4"/>
<rect x="653.0" y="205.06" width="32.3" height="7.34" fill="#8a9ad1"/>
<rect x="486.8" y="212.10" width="31.5" height="7.34" fill="#f9fafd"/>
<rect x="518.0" y="212.10" width="31.8" height="7.34" fill="#fef9f8"/>
<rect x="549.5" y="212.10" width="31.8" height="7.34" fill="#fbfcfe"/>
<rect x="590.2" y="212.10" width="31.7" height="7.34" fill="#be4235"/>
<rect x="621.6" y="212.10" width="31.7" height="7.34" fill="#b13127"/>
<rect x="653.0" y="212.10" width="32.3" height="7.34" fill="#fbebe8"/>
<rect x="486.8" y="219.14" width="31.5" height="7.34" fill="#f4f6fc"/>
<rect x="518.0" y="219.14" width="31.8" height="7.34" fill="#f9fafd"/>
<rect x="549.5" y="219.14" width="31.8" height="7.34" fill="#fdf5f4"/>
<rect x="590.2" y="219.14" width="31.7" height="7.34" fill="#d35f50"/>
<rect x="621.6" y="219.14" width="31.7" height="7.34" fill="#ffffff"/>
<rect x="653.0" y="219.14" width="32.3" height="7.34" fill="#fef9f8"/>
<rect x="486.8" y="226.18" width="31.5" height="7.34" fill="#eaeef8"/>
<rect x="518.0" y="226.18" width="31.8" height="7.34" fill="#d9dff1"/>
<rect x="549.5" y="226.18" width="31.8" height="7.34" fill="#d9dff1"/>
<rect x="590.2" y="226.18" width="31.7" height="7.34" fill="#d56455"/>
<rect x="621.6" y="226.18" width="31.7" height="7.34" fill="#dc7869"/>
<rect x="653.0" y="226.18" width="32.3" height="7.34" fill="#e1e6f5"/>
<rect x="486.8" y="233.22" width="31.5" height="7.34" fill="#f4f6fc"/>
<rect x="518.0" y="233.22" width="31.8" height="7.34" fill="#e7ebf7"/>
<rect x="549.5" y="233.22" width="31.8" height="7.34" fill="#f2f5fb"/>
<rect x="590.2" y="233.22" width="31.7" height="7.34" fill="#d56455"/>
<rect x="621.6" y="233.22" width="31.7" height="7.34" fill="#dc7869"/>
<rect x="653.0" y="233.22" width="32.3" height="7.34" fill="#596eba"/>
<rect x="486.8" y="240.26" width="31.5" height="7.34" fill="#fef9f8"/>
<rect x="518.0" y="240.26" width="31.8" height="7.34" fill="#e1e6f5"/>
<rect x="549.5" y="240.26" width="31.8" height="7.34" fill="#f9fafd"/>
<rect x="590.2" y="240.26" width="31.7" height="7.34" fill="#e38a7b"/>
<rect x="621.6" y="240.26" width="31.7" height="7.34" fill="#bc3f32"/>
<rect x="653.0" y="240.26" width="32.3" height="7.34" fill="#f4f6fc"/>
<rect x="486.8" y="247.30" width="31.5" height="7.34" fill="#fae7e4"/>
<rect x="518.0" y="247.30" width="31.8" height="7.34" fill="#fdf3f1"/>
<rect x="549.5" y="247.30" width="31.8" height="7.34" fill="#fcefed"/>
<rect x="590.2" y="247.30" width="31.7" height="7.34" fill="#e38a7b"/>
<rect x="621.6" y="247.30" width="31.7" height="7.34" fill="#fbebe8"/>
<rect x="653.0" y="247.30" width="32.3" height="7.34" fill="#fef9f8"/>
<rect x="486.8" y="254.34" width="31.5" height="7.34" fill="#fdf7f6"/>
<rect x="518.0" y="254.34" width="31.8" height="7.34" fill="#f9fafd"/>
<rect x="549.5" y="254.34" width="31.8" height="7.34" fill="#eef1f9"/>
<rect x="590.2" y="254.34" width="31.7" height="7.34" fill="#e69183"/>
<rect x="621.6" y="254.34" width="31.7" height="7.34" fill="#eeb2a7"/>
<rect x="653.0" y="254.34" width="32.3" height="7.34" fill="#f4f6fc"/>
<rect x="486.8" y="261.38" width="31.5" height="7.34" fill="#fcefed"/>
<rect x="518.0" y="261.38" width="31.8" height="7.34" fill="#fefbfa"/>
<rect x="549.5" y="261.38" width="31.8" height="7.34" fill="#fbebe8"/>
<rect x="590.2" y="261.38" width="31.7" height="7.34" fill="#e89688"/>
<rect x="621.6" y="261.38" width="31.7" height="7.34" fill="#fefbfa"/>
<rect x="653.0" y="261.38" width="32.3" height="7.34" fill="#fef9f8"/>
<rect x="486.8" y="268.42" width="31.5" height="7.34" fill="#ffffff"/>
<rect x="518.0" y="268.42" width="31.8" height="7.34" fill="#c9d1eb"/>
<rect x="549.5" y="268.42" width="31.8" height="7.34" fill="#f7f8fc"/>
<rect x="590.2" y="268.42" width="31.7" height="7.34" fill="#e89688"/>
<rect x="621.6" y="268.42" width="31.7" height="7.34" fill="#fdf5f4"/>
<rect x="653.0" y="268.42" width="32.3" height="7.34" fill="#bac4e5"/>
<rect x="486.8" y="275.46" width="31.5" height="7.34" fill="#eba295"/>
<rect x="518.0" y="275.46" width="31.8" height="7.34" fill="#ae2e24"/>
<rect x="549.5" y="275.46" width="31.8" height="7.34" fill="#eba295"/>
<rect x="590.2" y="275.46" width="31.7" height="7.34" fill="#fdf5f4"/>
<rect x="621.6" y="275.46" width="31.7" height="7.34" fill="#ae2e24"/>
<rect x="653.0" y="275.46" width="32.3" height="7.34" fill="#ae2e24"/>
<rect x="486.8" y="282.50" width="31.5" height="7.34" fill="#fef9f8"/>
<rect x="518.0" y="282.50" width="31.8" height="7.34" fill="#ae2e24"/>
<rect x="549.5" y="282.50" width="31.8" height="7.34" fill="#f7d9d3"/>
<rect x="590.2" y="282.50" width="31.7" height="7.34" fill="#a3b1dc"/>
<rect x="621.6" y="282.50" width="31.7" height="7.34" fill="#ae2e24"/>
<rect x="653.0" y="282.50" width="32.3" height="7.34" fill="#ae2e24"/>
<rect x="486.8" y="289.54" width="31.5" height="7.34" fill="#fae7e4"/>
<rect x="518.0" y="289.54" width="31.8" height="7.34" fill="#ae2e24"/>
<rect x="549.5" y="289.54" width="31.8" height="7.34" fill="#fae7e4"/>
<rect x="590.2" y="289.54" width="31.7" height="7.34" fill="#f4f6fc"/>
<rect x="621.6" y="289.54" width="31.7" height="7.34" fill="#ae2e24"/>
<rect x="653.0" y="289.54" width="32.3" height="7.34" fill="#ae2e24"/>
<rect x="486.8" y="296.58" width="31.5" height="7.34" fill="#f7f8fc"/>
<rect x="518.0" y="296.58" width="31.8" height="7.34" fill="#ae2e24"/>
<rect x="549.5" y="296.58" width="31.8" height="7.34" fill="#eba295"/>
<rect x="590.2" y="296.58" width="31.7" height="7.34" fill="#163294"/>
<rect x="621.6" y="296.58" width="31.7" height="7.34" fill="#ae2e24"/>
<rect x="653.0" y="296.58" width="32.3" height="7.34" fill="#ae2e24"/>
<rect x="486.8" y="303.62" width="31.5" height="7.34" fill="#fbebe8"/>
<rect x="518.0" y="303.62" width="31.8" height="7.34" fill="#d7695a"/>
<rect x="549.5" y="303.62" width="31.8" height="7.34" fill="#fae7e4"/>
<rect x="590.2" y="303.62" width="31.7" height="7.34" fill="#fbebe8"/>
<rect x="621.6" y="303.62" width="31.7" height="7.34" fill="#ae2e24"/>
<rect x="653.0" y="303.62" width="32.3" height="7.34" fill="#ae2e24"/>
<rect x="486.8" y="310.66" width="31.5" height="7.34" fill="#bac4e5"/>
<rect x="518.0" y="310.66" width="31.8" height="7.34" fill="#fcefed"/>
<rect x="549.5" y="310.66" width="31.8" height="7.34" fill="#fbebe8"/>
<rect x="590.2" y="310.66" width="31.7" height="7.34" fill="#163294"/>
<rect x="621.6" y="310.66" width="31.7" height="7.34" fill="#ae2e24"/>
<rect x="653.0" y="310.66" width="32.3" height="7.34" fill="#d35f50"/>
<rect x="486.8" y="317.70" width="31.5" height="7.34" fill="#f9fafd"/>
<rect x="518.0" y="317.70" width="31.8" height="7.34" fill="#c64c3e"/>
<rect x="549.5" y="317.70" width="31.8" height="7.34" fill="#f2c4bb"/>
<rect x="590.2" y="317.70" width="31.7" height="7.34" fill="#163294"/>
<rect x="621.6" y="317.70" width="31.7" height="7.34" fill="#ae2e24"/>
<rect x="653.0" y="317.70" width="32.3" height="7.34" fill="#d35f50"/>
<rect x="486.8" y="324.74" width="31.5" height="7.34" fill="#fbfcfe"/>
<rect x="518.0" y="324.74" width="31.8" height="7.34" fill="#fbfcfe"/>
<rect x="549.5" y="324.74" width="31.8" height="7.34" fill="#eba295"/>
<rect x="590.2" y="324.74" width="31.7" height="7.34" fill="#f6d5ce"/>
<rect x="621.6" y="324.74" width="31.7" height="7.34" fill="#ae2e24"/>
<rect x="653.0" y="324.74" width="32.3" height="7.34" fill="#f6d5ce"/>
<rect x="486.8" y="331.78" width="31.5" height="7.34" fill="#fef9f8"/>
<rect x="518.0" y="331.78" width="31.8" height="7.34" fill="#fefbfa"/>
<rect x="549.5" y="331.78" width="31.8" height="7.34" fill="#fefbfa"/>
<rect x="590.2" y="331.78" width="31.7" height="7.34" fill="#eef1f9"/>
<rect x="621.6" y="331.78" width="31.7" height="7.34" fill="#ae2e24"/>
<rect x="653.0" y="331.78" width="32.3" height="7.34" fill="#f7d9d3"/>
<rect x="486.8" y="338.82" width="31.5" height="7.34" fill="#eaeef8"/>
<rect x="518.0" y="338.82" width="31.8" height="7.34" fill="#f2f5fb"/>
<rect x="549.5" y="338.82" width="31.8" height="7.34" fill="#eaeef8"/>
<rect x="590.2" y="338.82" width="31.7" height="7.34" fill="#fdf3f1"/>
<rect x="621.6" y="338.82" width="31.7" height="7.34" fill="#ae2e24"/>
<rect x="653.0" y="338.82" width="32.3" height="7.34" fill="#eef1f9"/>
<rect x="486.8" y="345.86" width="31.5" height="7.34" fill="#fefbfa"/>
<rect x="518.0" y="345.86" width="31.8" height="7.34" fill="#fef9f8"/>
<rect x="549.5" y="345.86" width="31.8" height="7.34" fill="#fae7e4"/>
<rect x="590.2" y="345.86" width="31.7" height="7.34" fill="#edada2"/>
<rect x="621.6" y="345.86" width="31.7" height="7.34" fill="#ae2e24"/>
<rect x="653.0" y="345.86" width="32.3" height="7.34" fill="#f7d9d3"/>
<rect x="486.8" y="352.90" width="31.5" height="7.34" fill="#eef1f9"/>
<rect x="518.0" y="352.90" width="31.8" height="7.34" fill="#fcefed"/>
<rect x="549.5" y="352.90" width="31.8" height="7.34" fill="#fbebe8"/>
<rect x="590.2" y="352.90" width="31.7" height="7.34" fill="#e1e6f5"/>
<rect x="621.6" y="352.90" width="31.7" height="7.34" fill="#c2473a"/>
<rect x="653.0" y="352.90" width="32.3" height="7.34" fill="#c95041"/>
<rect x="486.8" y="359.94" width="31.5" height="7.34" fill="#eef1f9"/>
<rect x="518.0" y="359.94" width="31.8" height="7.34" fill="#fcefed"/>
<rect x="549.5" y="359.94" width="31.8" height="7.34" fill="#fefbfa"/>
<rect x="590.2" y="359.94" width="31.7" height="7.34" fill="#fef9f8"/>
<rect x="621.6" y="359.94" width="31.7" height="7.34" fill="#c2473a"/>
<rect x="653.0" y="359.94" width="32.3" height="7.34" fill="#fae7e4"/>
<rect x="486.8" y="366.98" width="31.5" height="7.34" fill="#fbebe8"/>
<rect x="518.0" y="366.98" width="31.8" height="7.34" fill="#dce2f3"/>
<rect x="549.5" y="366.98" width="31.8" height="7.34" fill="#f2f5fb"/>
<rect x="590.2" y="366.98" width="31.7" height="7.34" fill="#f9e2dd"/>
<rect x="621.6" y="366.98" width="31.7" height="7.34" fill="#dc7869"/>
<rect x="653.0" y="366.98" width="32.3" height="7.34" fill="#ffffff"/>
<rect x="486.8" y="374.02" width="31.5" height="7.34" fill="#f2f5fb"/>
<rect x="518.0" y="374.02" width="31.8" height="7.34" fill="#e1e6f5"/>
<rect x="549.5" y="374.02" width="31.8" height="7.34" fill="#f2f5fb"/>
<rect x="590.2" y="374.02" width="31.7" height="7.34" fill="#fdf3f1"/>
<rect x="621.6" y="374.02" width="31.7" height="7.34" fill="#e89688"/>
<rect x="653.0" y="374.02" width="32.3" height="7.34" fill="#f7f8fc"/>
<rect x="486.8" y="381.06" width="31.5" height="7.34" fill="#ae2e24"/>
<rect x="518.0" y="381.06" width="31.8" height="7.34" fill="#e7ebf7"/>
<rect x="549.5" y="381.06" width="31.8" height="7.34" fill="#f9fafd"/>
<rect x="590.2" y="381.06" width="31.7" height="7.34" fill="#f9e2dd"/>
<rect x="621.6" y="381.06" width="31.7" height="7.34" fill="#f0b9ae"/>
<rect x="653.0" y="381.06" width="32.3" height="7.34" fill="#eaeef8"/>
<rect x="486.8" y="388.10" width="31.5" height="7.34" fill="#163294"/>
<rect x="518.0" y="388.10" width="31.8" height="7.34" fill="#6478c0"/>
<rect x="549.5" y="388.10" width="31.8" height="7.34" fill="#8a9ad1"/>
<rect x="590.2" y="388.10" width="31.7" height="7.34" fill="#163294"/>
<rect x="621.6" y="388.10" width="31.7" height="7.34" fill="#f7f8fc"/>
<rect x="653.0" y="388.10" width="32.3" height="7.34" fill="#324ba4"/>
<rect x="486.8" y="395.14" width="31.5" height="7.34" fill="#f9fafd"/>
<rect x="518.0" y="395.14" width="31.8" height="7.34" fill="#6d80c4"/>
<rect x="549.5" y="395.14" width="31.8" height="7.34" fill="#f9fafd"/>
<rect x="590.2" y="395.14" width="31.7" height="7.34" fill="#fdf3f1"/>
<rect x="621.6" y="395.14" width="31.7" height="7.34" fill="#fcefed"/>
<rect x="653.0" y="395.14" width="32.3" height="7.34" fill="#eaeef8"/>
<rect x="486.8" y="402.18" width="31.5" height="7.34" fill="#f9fafd"/>
<rect x="518.0" y="402.18" width="31.8" height="7.34" fill="#fefbfa"/>
<rect x="549.5" y="402.18" width="31.8" height="7.34" fill="#f9fafd"/>
<rect x="590.2" y="402.18" width="31.7" height="7.34" fill="#f7f8fc"/>
<rect x="621.6" y="402.18" width="31.7" height="7.34" fill="#f9e2dd"/>
<rect x="653.0" y="402.18" width="32.3" height="7.34" fill="#fefbfa"/>
<rect x="486.8" y="409.22" width="31.5" height="7.34" fill="#fdf5f4"/>
<rect x="518.0" y="409.22" width="31.8" height="7.34" fill="#dce2f3"/>
<rect x="549.5" y="409.22" width="31.8" height="7.34" fill="#f4f6fc"/>
<rect x="590.2" y="409.22" width="31.7" height="7.34" fill="#f0b9ae"/>
<rect x="621.6" y="409.22" width="31.7" height="7.34" fill="#fdf3f1"/>
<rect x="653.0" y="409.22" width="32.3" height="7.34" fill="#eef1f9"/>
<rect x="486.8" y="416.26" width="31.5" height="7.34" fill="#f4f6fc"/>
<rect x="518.0" y="416.26" width="31.8" height="7.34" fill="#e7ebf7"/>
<rect x="549.5" y="416.26" width="31.8" height="7.34" fill="#f7f8fc"/>
<rect x="590.2" y="416.26" width="31.7" height="7.34" fill="#f9e2dd"/>
<rect x="621.6" y="416.26" width="31.7" height="7.34" fill="#eeb2a7"/>
<rect x="653.0" y="416.26" width="32.3" height="7.34" fill="#eaeef8"/>
<rect x="486.8" y="423.30" width="31.5" height="7.34" fill="#e1e6f5"/>
<rect x="518.0" y="423.30" width="31.8" height="7.34" fill="#eaeef8"/>
<rect x="549.5" y="423.30" width="31.8" height="7.34" fill="#fefbfa"/>
<rect x="590.2" y="423.30" width="31.7" height="7.34" fill="#c9d1eb"/>
<rect x="621.6" y="423.30" width="31.7" height="7.34" fill="#fef9f8"/>
<rect x="653.0" y="423.30" width="32.3" height="7.34" fill="#eef1f9"/>
<rect x="486.8" y="430.34" width="31.5" height="7.34" fill="#f7f8fc"/>
<rect x="518.0" y="430.34" width="31.8" height="7.34" fill="#aab6df"/>
<rect x="549.5" y="430.34" width="31.8" height="7.34" fill="#d9dff1"/>
<rect x="590.2" y="430.34" width="31.7" height="7.34" fill="#fdf3f1"/>
<rect x="621.6" y="430.34" width="31.7" height="7.34" fill="#e1e6f5"/>
<rect x="653.0" y="430.34" width="32.3" height="7.34" fill="#163294"/>
<rect x="486.8" y="437.38" width="31.5" height="7.34" fill="#9cabda"/>
<rect x="518.0" y="437.38" width="31.8" height="7.34" fill="#f7f8fc"/>
<rect x="549.5" y="437.38" width="31.8" height="7.34" fill="#f9fafd"/>
<rect x="590.2" y="437.38" width="31.7" height="7.34" fill="#163294"/>
<rect x="621.6" y="437.38" width="31.7" height="7.34" fill="#fdf5f4"/>
<rect x="653.0" y="437.38" width="32.3" height="7.34" fill="#f4f6fc"/>
<rect x="486.8" y="444.42" width="31.5" height="7.34" fill="#dce2f3"/>
<rect x="518.0" y="444.42" width="31.8" height="7.34" fill="#f2f5fb"/>
<rect x="549.5" y="444.42" width="31.8" height="7.34" fill="#eef1f9"/>
<rect x="590.2" y="444.42" width="31.7" height="7.34" fill="#fef9f8"/>
<rect x="621.6" y="444.42" width="31.7" height="7.34" fill="#f7d9d3"/>
<rect x="653.0" y="444.42" width="32.3" height="7.34" fill="#dce2f3"/></g>
<g fill="#231f20" font-size="5.65" text-anchor="end"><text x="482.7" y="6.47">CHD1_SYDH</text>
<text x="482.7" y="13.51">P300_HAIB</text>
<text x="482.7" y="20.55">JUND_HAIB</text>
<text x="482.7" y="27.59">RAD21_HAIB</text>
<text x="482.7" y="34.63">EGR1_HAIB</text>
<text x="482.7" y="41.67">CTBP2_SYDH</text>
<text x="482.7" y="48.71">TCF12_HAIB</text>
<text x="482.7" y="55.75">HDAC2_HAIB</text>
<text x="482.7" y="62.79">TEAD4_HAIB</text>
<text x="482.7" y="69.83">JUND_SYDH</text>
<text x="482.7" y="76.87">CHD7_Broad</text>
<text x="482.7" y="83.91">CHD2_SYDH</text>
<text x="482.7" y="90.95">YY1_HAIB</text>
<text x="482.7" y="97.99">FOSL1_HAIB</text>
<text x="482.7" y="105.03">RAD21_SYDH</text>
<text x="482.7" y="112.07">GTF2F1_SYDH</text>
<text x="482.7" y="119.11">MAX_HAIB</text>
<text x="482.7" y="126.15">ZNF143_SYDH</text>
<text x="482.7" y="133.19">MXI1_SYDH</text>
<text x="482.7" y="140.23">GABP_HAIB</text>
<text x="482.7" y="147.27">USF2_SYDH</text>
<text x="482.7" y="154.31">E2F6_HAIB</text>
<text x="482.7" y="161.35">TAF7_HAIB</text>
<text x="482.7" y="168.39">PHF8_Broad</text>
<text x="482.7" y="175.43">SIN3A_SYDH</text>
<text x="482.7" y="182.47">SP4_HAIB</text>
<text x="482.7" y="189.51">BACH1_SYDH</text>
<text x="482.7" y="196.55">CTCF_HAIB</text>
<text x="482.7" y="203.59">RBBP5_Broad</text>
<text x="482.7" y="210.63">MYC_SYDH</text>
<text x="482.7" y="217.67">HDAC6_Broad</text>
<text x="482.7" y="224.71">ATF2_HAIB</text>
<text x="482.7" y="231.75">CREB1_HAIB</text>
<text x="482.7" y="238.79">BRCA1_SYDH</text>
<text x="482.7" y="245.83">USF1_HAIB</text>
<text x="482.7" y="252.87">PRDM14_Ng</text>
<text x="482.7" y="259.91">JUN_SYDH</text>
<text x="482.7" y="266.95">EZH2_Broad</text>
<text x="482.7" y="273.99">TAF1_HAIB</text>
<text x="482.7" y="281.03">BCL11A_HAIB</text>
<text x="482.7" y="288.07">SOX2_Ecker</text>
<text x="482.7" y="295.11">POU5F1_HAIB</text>
<text x="482.7" y="302.15">NANOG_Ecker</text>
<text x="482.7" y="309.19">NANOG_HAIB</text>
<text x="482.7" y="316.23">MAX_SYDH</text>
<text x="482.7" y="323.27">CHD1_Broad</text>
<text x="482.7" y="330.31">NRSF_HAIB</text>
<text x="482.7" y="337.35">SP1_HAIB</text>
<text x="482.7" y="344.39">SRF_HAIB</text>
<text x="482.7" y="351.43">SIRT6_Broad</text>
<text x="482.7" y="358.47">MAFK_SYDH</text>
<text x="482.7" y="365.51">CEBPB_SYDH</text>
<text x="482.7" y="372.55">ERK2_Ng</text>
<text x="482.7" y="379.59">TBP_SYDH</text>
<text x="482.7" y="386.63">ELK1_Ng</text>
<text x="482.7" y="393.67">KDM5A_Broad</text>
<text x="482.7" y="400.71">SIN3A_HAIB</text>
<text x="482.7" y="407.75">CTCF_Broad</text>
<text x="482.7" y="414.79">SAP30_Broad</text>
<text x="482.7" y="421.83">RFX5_SYDH</text>
<text x="482.7" y="428.87">SP2_HAIB</text>
<text x="482.7" y="435.91">NRF1_SYDH</text>
<text x="482.7" y="442.95">SIX5_HAIB</text>
<text x="482.7" y="449.99">ATF3_HAIB</text></g>
<g stroke="#aaa" stroke-width="0.5"><line x1="483.6" y1="4.42" x2="486.2" y2="4.42"/>
<line x1="483.6" y1="11.46" x2="486.2" y2="11.46"/>
<line x1="483.6" y1="18.50" x2="486.2" y2="18.50"/>
<line x1="483.6" y1="25.54" x2="486.2" y2="25.54"/>
<line x1="483.6" y1="32.58" x2="486.2" y2="32.58"/>
<line x1="483.6" y1="39.62" x2="486.2" y2="39.62"/>
<line x1="483.6" y1="46.66" x2="486.2" y2="46.66"/>
<line x1="483.6" y1="53.70" x2="486.2" y2="53.70"/>
<line x1="483.6" y1="60.74" x2="486.2" y2="60.74"/>
<line x1="483.6" y1="67.78" x2="486.2" y2="67.78"/>
<line x1="483.6" y1="74.82" x2="486.2" y2="74.82"/>
<line x1="483.6" y1="81.86" x2="486.2" y2="81.86"/>
<line x1="483.6" y1="88.90" x2="486.2" y2="88.90"/>
<line x1="483.6" y1="95.94" x2="486.2" y2="95.94"/>
<line x1="483.6" y1="102.98" x2="486.2" y2="102.98"/>
<line x1="483.6" y1="110.02" x2="486.2" y2="110.02"/>
<line x1="483.6" y1="117.06" x2="486.2" y2="117.06"/>
<line x1="483.6" y1="124.10" x2="486.2" y2="124.10"/>
<line x1="483.6" y1="131.14" x2="486.2" y2="131.14"/>
<line x1="483.6" y1="138.18" x2="486.2" y2="138.18"/>
<line x1="483.6" y1="145.22" x2="486.2" y2="145.22"/>
<line x1="483.6" y1="152.26" x2="486.2" y2="152.26"/>
<line x1="483.6" y1="159.30" x2="486.2" y2="159.30"/>
<line x1="483.6" y1="166.34" x2="486.2" y2="166.34"/>
<line x1="483.6" y1="173.38" x2="486.2" y2="173.38"/>
<line x1="483.6" y1="180.42" x2="486.2" y2="180.42"/>
<line x1="483.6" y1="187.46" x2="486.2" y2="187.46"/>
<line x1="483.6" y1="194.50" x2="486.2" y2="194.50"/>
<line x1="483.6" y1="201.54" x2="486.2" y2="201.54"/>
<line x1="483.6" y1="208.58" x2="486.2" y2="208.58"/>
<line x1="483.6" y1="215.62" x2="486.2" y2="215.62"/>
<line x1="483.6" y1="222.66" x2="486.2" y2="222.66"/>
<line x1="483.6" y1="229.70" x2="486.2" y2="229.70"/>
<line x1="483.6" y1="236.74" x2="486.2" y2="236.74"/>
<line x1="483.6" y1="243.78" x2="486.2" y2="243.78"/>
<line x1="483.6" y1="250.82" x2="486.2" y2="250.82"/>
<line x1="483.6" y1="257.86" x2="486.2" y2="257.86"/>
<line x1="483.6" y1="264.90" x2="486.2" y2="264.90"/>
<line x1="483.6" y1="271.94" x2="486.2" y2="271.94"/>
<line x1="483.6" y1="278.98" x2="486.2" y2="278.98"/>
<line x1="483.6" y1="286.02" x2="486.2" y2="286.02"/>
<line x1="483.6" y1="293.06" x2="486.2" y2="293.06"/>
<line x1="483.6" y1="300.10" x2="486.2" y2="300.10"/>
<line x1="483.6" y1="307.14" x2="486.2" y2="307.14"/>
<line x1="483.6" y1="314.18" x2="486.2" y2="314.18"/>
<line x1="483.6" y1="321.22" x2="486.2" y2="321.22"/>
<line x1="483.6" y1="328.26" x2="486.2" y2="328.26"/>
<line x1="483.6" y1="335.30" x2="486.2" y2="335.30"/>
<line x1="483.6" y1="342.34" x2="486.2" y2="342.34"/>
<line x1="483.6" y1="349.38" x2="486.2" y2="349.38"/>
<line x1="483.6" y1="356.42" x2="486.2" y2="356.42"/>
<line x1="483.6" y1="363.46" x2="486.2" y2="363.46"/>
<line x1="483.6" y1="370.50" x2="486.2" y2="370.50"/>
<line x1="483.6" y1="377.54" x2="486.2" y2="377.54"/>
<line x1="483.6" y1="384.58" x2="486.2" y2="384.58"/>
<line x1="483.6" y1="391.62" x2="486.2" y2="391.62"/>
<line x1="483.6" y1="398.66" x2="486.2" y2="398.66"/>
<line x1="483.6" y1="405.70" x2="486.2" y2="405.70"/>
<line x1="483.6" y1="412.74" x2="486.2" y2="412.74"/>
<line x1="483.6" y1="419.78" x2="486.2" y2="419.78"/>
<line x1="483.6" y1="426.82" x2="486.2" y2="426.82"/>
<line x1="483.6" y1="433.86" x2="486.2" y2="433.86"/>
<line x1="483.6" y1="440.90" x2="486.2" y2="440.90"/>
<line x1="483.6" y1="447.94" x2="486.2" y2="447.94"/></g>
<g fill="#231f20" font-size="6.3" text-anchor="middle"><text x="502.8" y="462.6">ZNF263</text><text x="502.8" y="470.1">motif</text><text x="502.8" y="477.6">(1218)</text>
<text x="536" y="462.6">Pou5f1::Sox2</text><text x="536" y="470.1">motif</text><text x="536" y="477.6">(343)</text>
<text x="566.2" y="462.6">Sox2</text><text x="566.2" y="470.1">motif</text><text x="566.2" y="477.6">(587)</text>
<text x="606.6" y="462.6">ZNF263</text><text x="606.6" y="470.1">peaks</text><text x="606.6" y="477.6">(4767)</text>
<text x="639.3" y="462.6">POU5F1</text><text x="639.3" y="470.1">peaks</text><text x="639.3" y="477.6">(636)</text>
<text x="670.1" y="462.6">SOX2</text><text x="670.1" y="470.1">peaks</text><text x="670.1" y="477.6">(149)</text></g>
<g stroke="#999" stroke-width="0.5"><line x1="502.5" y1="450.9" x2="502.5" y2="453.6"/><line x1="533.6" y1="450.9" x2="533.6" y2="453.6"/><line x1="565.1" y1="450.9" x2="565.1" y2="453.6"/><line x1="606.6" y1="450.9" x2="606.6" y2="453.6"/><line x1="637.6" y1="450.9" x2="637.6" y2="453.6"/><line x1="668.6" y1="450.9" x2="668.6" y2="453.6"/></g>
<defs><linearGradient id="cb" x1="0" y1="0" x2="0" y2="1">
<stop offset="0" stop-color="#ae2e24"/><stop offset="0.25" stop-color="#d8685a"/><stop offset="0.5" stop-color="#ffffff"/>
<stop offset="0.75" stop-color="#8d9fd6"/><stop offset="1" stop-color="#18359a"/></linearGradient></defs>
<rect x="427.2" y="377.1" width="7.5" height="76" fill="url(#cb)" stroke="#333" stroke-width="0.4"/>
<g stroke="#333" stroke-width="0.5"><line x1="424.5" y1="377.1" x2="427.2" y2="377.1"/><line x1="424.5" y1="415.1" x2="427.2" y2="415.1"/><line x1="424.5" y1="453.1" x2="427.2" y2="453.1"/></g>
<g fill="#231f20" font-size="6.5" text-anchor="end"><text x="423.3" y="379.5">10</text><text x="423.3" y="417.5">0</text><text x="423.3" y="455.5">-10</text></g>
<text transform="translate(411.3,416) rotate(-90)" text-anchor="middle" font-size="7" fill="#231f20">Signed log<tspan font-size="4.5" dy="1.5">10</tspan><tspan dy="-1.5">(</tspan><tspan font-style="italic">P</tspan>-value)</text>
</svg></body></html>
